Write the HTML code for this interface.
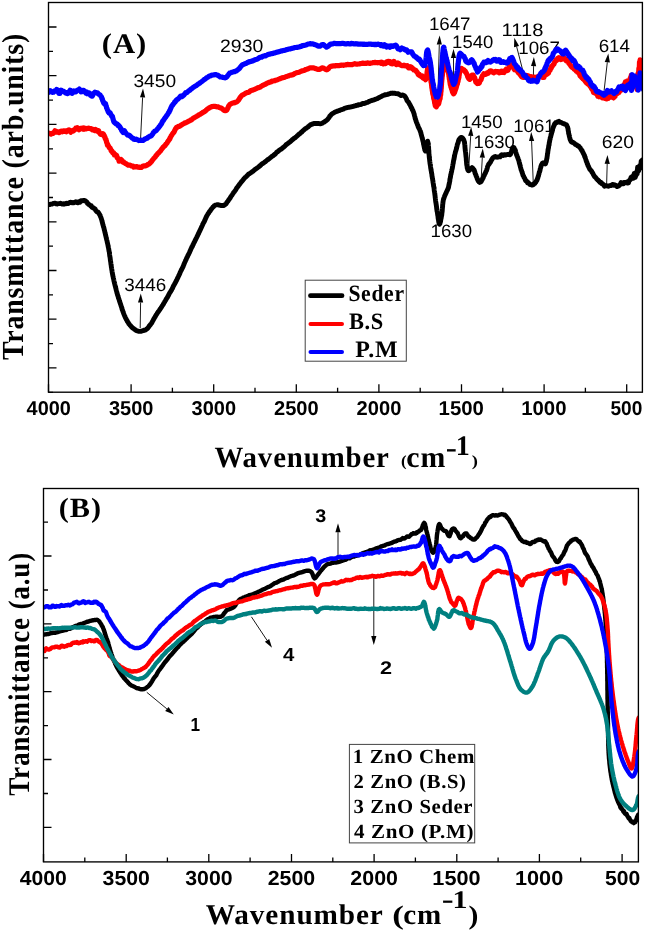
<!DOCTYPE html>
<html><head><meta charset="utf-8"><title>FTIR spectra</title>
<style>html,body{margin:0;padding:0;background:#fff}svg{display:block}</style></head>
<body>
<svg width="645" height="932" viewBox="0 0 645 932" text-rendering="geometricPrecision">
<rect width="645" height="932" fill="#fff"/>
<text transform="translate(133.43,87.20) scale(1.0645,1)" font-size="18" font-family="'Liberation Sans', sans-serif" font-weight="normal">3450</text>
<text transform="translate(220.03,52.30) scale(1.0799,1)" font-size="18" font-family="'Liberation Sans', sans-serif" font-weight="normal">2930</text>
<text transform="translate(428.90,30.00) scale(1.0397,1)" font-size="18" font-family="'Liberation Sans', sans-serif" font-weight="normal">1647</text>
<text transform="translate(452.11,47.80) scale(1.0269,1)" font-size="18" font-family="'Liberation Sans', sans-serif" font-weight="normal">1540</text>
<text transform="translate(501.59,36.40) scale(1.1168,1)" font-size="18" font-family="'Liberation Sans', sans-serif" font-weight="normal">1118</text>
<text transform="translate(518.30,53.80) scale(1.0397,1)" font-size="18" font-family="'Liberation Sans', sans-serif" font-weight="normal">1067</text>
<text transform="translate(598.66,52.00) scale(1.0445,1)" font-size="18" font-family="'Liberation Sans', sans-serif" font-weight="normal">614</text>
<text transform="translate(460.90,128.30) scale(1.0400,1)" font-size="18" font-family="'Liberation Sans', sans-serif" font-weight="normal">1450</text>
<text transform="translate(473.61,147.80) scale(1.0269,1)" font-size="18" font-family="'Liberation Sans', sans-serif" font-weight="normal">1630</text>
<text transform="translate(513.31,132.00) scale(1.0291,1)" font-size="18" font-family="'Liberation Sans', sans-serif" font-weight="normal">1061</text>
<text transform="translate(601.73,147.60) scale(1.0723,1)" font-size="18" font-family="'Liberation Sans', sans-serif" font-weight="normal">620</text>
<text transform="translate(430.60,237.20) scale(1.0348,1)" font-size="18" font-family="'Liberation Sans', sans-serif" font-weight="normal">1630</text>
<text transform="translate(124.34,291.00) scale(1.0488,1)" font-size="18" font-family="'Liberation Sans', sans-serif" font-weight="normal">3446</text>
<line x1="140.5" y1="140.0" x2="142.6" y2="97.4" stroke="#000" stroke-width="0.9"/><polygon points="143.0,88.4 145.2,97.5 140.0,97.3" fill="#000"/>
<line x1="438.0" y1="91.9" x2="439.3" y2="44.5" stroke="#000" stroke-width="0.9"/><polygon points="439.6,35.5 441.9,44.6 436.7,44.4" fill="#000"/>
<line x1="453.6" y1="82.0" x2="453.5" y2="57.9" stroke="#000" stroke-width="0.9"/><polygon points="453.5,48.9 456.1,57.9 450.9,57.9" fill="#000"/>
<line x1="523.5" y1="73.3" x2="516.6" y2="46.5" stroke="#000" stroke-width="0.9"/><polygon points="514.3,37.8 519.1,45.9 514.0,47.2" fill="#000"/>
<line x1="533.4" y1="75.0" x2="533.6" y2="66.1" stroke="#000" stroke-width="0.9"/><polygon points="533.9,57.1 536.2,66.2 531.0,66.0" fill="#000"/>
<line x1="604.1" y1="90.6" x2="607.3" y2="62.3" stroke="#000" stroke-width="0.9"/><polygon points="608.3,53.4 609.9,62.6 604.7,62.1" fill="#000"/>
<line x1="468.8" y1="167.5" x2="470.7" y2="136.0" stroke="#000" stroke-width="0.9"/><polygon points="471.2,127.0 473.3,136.1 468.1,135.8" fill="#000"/>
<line x1="481.2" y1="178.3" x2="482.3" y2="157.6" stroke="#000" stroke-width="0.9"/><polygon points="482.8,148.6 484.9,157.7 479.7,157.4" fill="#000"/>
<line x1="533.3" y1="183.8" x2="531.6" y2="141.0" stroke="#000" stroke-width="0.9"/><polygon points="531.2,132.0 534.2,140.9 529.0,141.1" fill="#000"/>
<line x1="606.6" y1="185.3" x2="607.2" y2="163.9" stroke="#000" stroke-width="0.9"/><polygon points="607.5,154.9 609.8,164.0 604.6,163.8" fill="#000"/>
<line x1="140.2" y1="328.0" x2="140.6" y2="302.5" stroke="#000" stroke-width="0.9"/><polygon points="140.8,293.5 143.2,302.5 138.0,302.5" fill="#000"/>
<clipPath id="ca"><rect x="48.5" y="2.5" width="593.9" height="389.7"/></clipPath>
<g fill="none" stroke-linejoin="round" stroke-linecap="round" clip-path="url(#ca)">
<path d="M44.0 204.7L44.1 204.9 44.2 205.2 44.5 205.3 44.9 204.7 45.4 204.5 46.0 204.2 46.7 204.1 47.4 204.4 48.3 204.7 49.1 204.4 50.0 204.5 51.0 204.1 52.0 204.1 53.0 203.5 54.1 203.4 55.1 203.1 56.2 203.9 57.3 204.0 58.3 203.6 59.4 203.6 60.4 203.3 61.4 203.8 62.3 204.1 63.2 203.7 64.0 204.2 64.8 203.7 65.7 203.7 66.5 203.3 67.4 203.6 68.3 203.6 69.1 202.7 70.0 202.4 70.9 202.3 71.7 202.5 72.6 202.9 73.4 202.8 74.2 202.3 75.0 202.1 75.8 201.8 76.6 202.6 77.3 202.6 78.0 202.8 78.7 201.8 79.4 201.9 80.0 202.2 81.0 200.7 82.0 200.8 82.9 200.7 83.7 200.4 84.5 200.5 85.3 200.8 86.0 201.5 86.8 201.9 87.4 203.3 88.1 203.7 88.7 204.5 89.3 204.7 90.0 205.1 90.6 205.8 91.3 205.8 92.0 207.3 92.6 207.6 93.3 207.7 93.9 208.3 94.6 208.5 95.2 209.2 95.7 210.4 96.3 211.0 96.9 211.8 97.5 211.7 98.1 212.1 98.6 213.0 99.1 213.7 99.6 214.7 100.0 214.9 100.3 216.0 100.6 216.7 100.9 217.4 101.2 218.3 101.4 218.9 101.7 219.9 101.9 220.7 102.1 221.5 102.4 222.5 102.6 223.4 102.8 224.3 103.1 225.1 103.3 226.1 103.5 226.8 103.8 227.5 104.0 228.3 104.2 229.4 104.4 230.0 104.6 230.8 104.8 231.7 105.0 232.7 105.2 233.4 105.4 234.3 105.6 235.2 105.8 235.9 106.0 236.8 106.2 237.7 106.4 238.5 106.6 239.3 106.8 240.1 107.0 240.8 107.2 241.7 107.3 242.5 107.5 243.2 107.7 244.0 107.9 244.8 108.0 245.5 108.2 246.5 108.4 247.5 108.6 248.3 108.7 248.9 108.8 249.7 108.9 250.1 109.0 251.0 109.2 251.6 109.3 252.2 109.4 253.1 109.5 253.6 109.6 254.6 109.7 255.3 109.8 256.2 110.0 257.0 110.1 257.6 110.2 258.5 110.3 259.3 110.4 260.3 110.5 261.0 110.7 261.9 110.8 262.8 110.9 263.8 111.0 264.5 111.2 265.4 111.3 266.4 111.4 267.3 111.6 268.1 111.7 269.1 111.8 269.8 112.0 270.7 112.1 271.6 112.2 272.3 112.4 273.1 112.5 274.1 112.7 274.7 112.8 275.7 113.0 276.4 113.2 277.1 113.3 277.9 113.5 278.6 113.7 279.6 113.9 280.3 114.0 281.1 114.2 281.8 114.4 282.7 114.6 283.6 114.8 284.2 115.0 285.1 115.2 285.9 115.4 286.7 115.6 287.5 115.8 288.2 116.0 289.0 116.2 289.9 116.4 290.7 116.6 291.4 116.8 292.1 117.0 293.0 117.2 293.5 117.4 294.3 117.6 295.1 117.9 295.9 118.1 296.6 118.3 297.2 118.5 298.1 118.8 298.7 119.0 299.4 119.3 300.4 119.5 301.1 119.8 301.9 120.0 302.5 120.3 303.5 120.6 304.2 120.8 304.9 121.1 305.9 121.4 306.8 121.7 307.5 121.9 308.5 122.2 309.5 122.5 310.2 122.8 311.1 123.1 312.0 123.4 312.7 123.7 313.6 124.0 314.4 124.3 315.1 124.6 315.8 124.9 316.4 125.2 317.2 125.5 317.9 125.9 318.5 126.2 319.2 126.5 319.7 127.0 320.5 127.4 321.5 127.9 322.1 128.4 322.8 128.8 323.7 129.3 324.2 129.8 324.9 130.3 325.4 130.8 326.0 131.3 326.7 131.9 327.4 132.4 327.7 133.0 328.3 133.7 328.6 134.5 329.3 135.2 329.7 136.0 330.4 136.8 330.7 137.6 331.0 138.4 331.3 139.2 331.4 140.0 331.4 140.8 331.3 141.5 331.1 142.3 330.9 143.1 330.7 143.9 330.3 144.7 330.2 145.5 329.9 146.2 329.4 147.0 328.8 147.7 328.4 148.2 327.5 148.7 326.9 149.2 326.1 149.7 325.6 150.2 325.1 150.6 324.4 151.1 323.8 151.5 323.3 152.0 322.4 152.4 321.6 152.8 320.9 153.3 319.9 153.7 319.2 154.2 318.3 154.6 317.6 155.1 316.9 155.5 316.0 156.0 315.2 156.4 314.6 156.9 313.9 157.3 313.1 157.7 312.5 158.2 311.9 158.6 311.3 159.1 310.6 159.5 310.0 160.0 309.3 160.4 308.8 160.9 308.0 161.3 307.3 161.8 306.6 162.2 305.9 162.7 305.2 163.1 304.6 163.6 303.7 164.0 302.8 164.5 302.1 164.9 301.3 165.4 300.6 165.8 299.8 166.2 299.2 166.6 298.6 167.0 297.9 167.4 297.3 167.8 296.5 168.2 295.8 168.6 295.2 168.9 294.4 169.3 293.6 169.7 292.9 170.1 292.3 170.5 291.8 170.9 291.0 171.2 290.6 171.6 289.8 172.0 289.0 172.4 288.4 172.8 287.5 173.2 286.6 173.6 285.7 174.0 285.1 174.4 284.4 174.8 283.6 175.2 282.8 175.6 282.2 175.9 281.5 176.2 281.0 176.6 280.3 176.9 279.6 177.2 279.0 177.6 278.2 177.9 277.5 178.2 276.8 178.6 276.0 178.9 275.3 179.3 274.7 179.6 273.9 180.0 273.0 180.3 272.1 180.7 271.4 181.0 270.7 181.4 270.0 181.7 269.4 182.1 268.5 182.5 267.9 182.8 267.1 183.2 266.3 183.5 265.5 183.9 264.5 184.2 263.7 184.6 262.8 184.9 262.1 185.3 261.4 185.6 260.4 186.0 259.8 186.3 259.0 186.7 258.1 187.0 257.4 187.4 256.8 187.7 256.0 188.0 255.3 188.4 254.7 188.7 254.1 189.0 253.4 189.4 252.7 189.7 251.9 190.0 251.2 190.4 250.4 190.7 249.6 191.1 248.6 191.5 248.0 191.8 247.1 192.2 246.6 192.6 245.8 192.9 244.9 193.3 244.3 193.6 243.5 194.0 242.7 194.3 242.2 194.7 241.5 195.0 240.7 195.4 240.0 195.7 239.4 196.1 238.6 196.4 237.9 196.8 237.2 197.1 236.6 197.4 235.9 197.8 235.1 198.1 234.3 198.5 233.7 198.8 233.0 199.1 232.2 199.5 231.5 199.8 230.8 200.2 230.1 200.5 229.3 200.9 228.6 201.2 227.7 201.6 227.0 202.0 226.1 202.3 225.5 202.7 224.6 203.0 223.8 203.4 223.1 203.7 222.6 204.1 221.8 204.5 221.2 204.8 220.2 205.2 219.6 205.5 218.7 205.9 217.9 206.2 217.2 206.6 216.4 206.9 215.7 207.3 215.0 207.7 214.4 208.0 213.8 208.4 213.3 208.8 212.9 209.1 212.2 209.5 211.6 210.1 211.0 210.6 210.1 211.2 209.4 211.7 208.7 212.3 208.0 212.9 207.1 213.5 206.7 214.1 205.9 214.7 205.7 215.3 205.2 216.0 205.0 216.7 204.8 217.5 204.8 218.4 204.8 219.2 205.1 220.1 205.2 220.9 205.5 221.8 205.6 222.6 205.5 223.3 205.6 224.0 205.5 224.7 204.9 225.3 204.4 225.9 204.0 226.4 203.3 226.9 202.4 227.4 201.8 228.0 201.1 228.5 200.2 229.1 199.5 229.5 198.8 230.0 198.2 230.4 197.5 230.8 196.8 231.3 196.0 231.7 195.5 232.2 194.8 232.7 194.0 233.2 193.2 233.6 192.5 234.1 191.9 234.6 191.4 235.1 190.7 235.5 190.1 236.0 189.3 236.5 188.4 236.9 187.7 237.4 187.2 237.9 186.5 238.4 185.9 238.9 185.2 239.3 184.5 239.8 183.9 240.3 183.4 240.7 182.7 241.2 182.1 241.7 181.6 242.2 181.0 242.7 180.4 243.2 179.8 243.7 179.0 244.3 178.4 244.9 177.7 245.5 177.2 246.0 176.8 246.6 176.2 247.2 175.7 247.8 174.9 248.4 174.3 249.1 173.8 249.7 173.6 250.4 173.1 251.0 172.6 251.7 172.2 252.4 171.5 253.1 171.2 253.8 170.5 254.5 169.9 255.2 169.2 255.9 168.9 256.6 168.3 257.3 167.9 257.9 167.4 258.5 167.1 259.1 166.5 259.7 166.0 260.3 165.5 260.9 164.9 261.5 164.3 262.2 163.8 262.8 163.5 263.4 163.1 264.1 162.7 264.7 162.0 265.4 161.7 266.0 161.1 266.7 160.5 267.3 159.9 268.0 159.5 268.6 159.2 269.3 158.6 270.0 158.0 270.6 157.4 271.3 156.9 272.0 156.3 272.6 156.0 273.3 155.6 273.9 154.9 274.6 154.5 275.2 154.0 275.8 153.4 276.4 152.6 277.0 152.0 277.6 151.7 278.3 151.2 278.9 150.7 279.5 150.1 280.1 149.7 280.7 149.4 281.4 148.9 282.0 148.5 282.6 147.9 283.2 147.4 283.9 146.9 284.5 146.5 285.1 145.8 285.8 145.0 286.4 144.5 287.0 144.1 287.6 143.6 288.3 143.2 288.9 142.6 289.5 142.2 290.2 141.7 290.8 141.1 291.4 140.7 292.0 140.0 292.6 139.5 293.3 139.1 293.9 138.5 294.5 138.0 295.2 137.7 295.8 137.1 296.5 136.5 297.1 135.9 297.8 135.3 298.5 134.7 299.2 134.0 299.9 133.6 300.5 133.1 301.2 132.3 301.9 132.0 302.6 131.1 303.3 130.6 303.9 130.0 304.6 129.3 305.3 128.7 305.9 128.4 306.6 127.9 307.2 127.5 307.9 127.0 308.5 126.5 309.1 125.9 309.7 125.4 310.3 125.0 310.9 124.5 311.5 124.5 312.0 124.3 312.6 124.0 313.1 123.6 314.0 123.5 314.9 123.5 315.8 123.4 316.6 123.5 317.4 123.5 318.2 123.6 319.0 123.5 319.7 123.7 320.5 123.7 321.3 123.6 322.2 123.2 323.0 122.6 323.8 122.2 324.5 121.9 325.3 121.2 326.0 120.7 326.7 120.2 327.3 119.8 327.8 119.1 328.3 118.5 328.8 117.9 329.3 117.2 329.8 116.2 330.4 115.7 331.0 114.9 331.7 114.1 332.3 113.7 332.9 113.3 333.6 112.9 334.3 112.6 335.0 112.1 335.8 111.7 336.5 111.4 337.3 111.3 338.1 110.9 339.0 110.7 339.8 110.4 340.7 109.9 341.5 109.7 342.4 109.4 343.2 109.2 344.1 108.6 344.8 108.3 345.6 108.0 346.3 107.9 347.1 107.7 347.9 107.4 348.6 107.4 349.4 107.1 350.2 107.0 351.1 106.8 351.9 106.8 352.7 106.5 353.5 106.4 354.3 106.0 355.1 105.9 356.0 105.5 356.8 105.3 357.6 105.2 358.4 104.8 359.2 104.7 360.0 104.6 360.7 104.6 361.5 104.2 362.3 103.7 363.1 103.5 364.0 103.5 364.8 103.4 365.6 103.0 366.5 102.6 367.3 102.4 368.1 102.1 368.9 101.5 369.7 101.3 370.5 100.9 371.3 100.7 372.1 100.4 372.8 100.1 373.6 100.1 374.3 99.8 375.0 99.4 375.7 99.2 376.4 98.9 377.3 98.7 378.1 98.2 378.9 97.7 379.7 97.3 380.5 96.9 381.2 96.5 382.0 96.2 382.7 95.6 383.5 95.4 384.2 95.2 385.0 94.8 385.8 94.7 386.6 94.6 387.5 94.4 388.3 94.1 389.1 93.8 389.9 93.6 390.7 93.3 391.6 93.2 392.4 93.3 393.3 93.1 394.1 93.2 394.9 93.2 395.7 93.6 396.5 93.6 397.4 93.7 398.2 93.8 399.1 94.4 399.9 94.8 400.7 95.5 401.5 95.5 402.3 95.0 403.0 95.1 403.7 95.4 404.3 95.8 404.9 96.2 405.5 97.2 406.0 98.0 406.5 99.1 407.0 100.5 407.5 101.1 408.0 101.7 408.4 102.0 408.9 102.8 409.3 103.6 409.8 104.6 410.2 105.0 410.5 105.8 410.9 106.6 411.2 107.5 411.5 107.8 411.8 108.1 412.1 109.0 412.4 110.0 412.7 110.0 413.0 111.0 413.2 111.3 413.5 112.1 413.8 113.2 414.1 113.7 414.3 114.9 414.6 116.0 414.9 116.8 415.1 118.0 415.4 119.0 415.6 119.4 415.9 120.6 416.2 121.3 416.4 122.0 416.7 122.7 417.0 123.4 417.3 124.4 417.6 125.1 417.9 125.5 418.1 126.6 418.4 127.3 418.7 127.7 419.0 128.6 419.3 128.7 419.6 129.5 419.8 130.1 420.1 130.8 420.4 131.2 420.6 132.4 420.9 132.8 421.1 134.1 421.4 134.9 421.6 135.9 421.9 136.9 422.1 137.8 422.4 138.2 422.6 139.7 422.8 140.3 423.0 141.4 423.3 142.2 423.5 143.9 423.7 144.5 423.9 145.6 424.1 146.6 424.3 147.5 424.5 148.4 424.7 149.1 424.8 149.8 425.0 150.1 425.2 150.7 425.4 150.9 425.6 150.7 425.8 149.6 426.1 149.0 426.3 147.9 426.5 146.7 426.7 145.3 426.9 143.9 427.1 143.4 427.2 142.4 427.4 141.6 427.6 141.6 427.7 141.2 427.8 142.0 427.9 142.3 428.0 142.8 428.1 142.6 428.2 143.7 428.3 144.4 428.3 144.6 428.4 145.8 428.5 146.4 428.6 147.3 428.6 148.2 428.7 149.4 428.8 150.9 428.9 151.7 428.9 153.0 429.0 154.2 429.1 154.7 429.2 156.3 429.3 157.4 429.4 158.2 429.5 159.0 429.6 159.8 429.7 160.9 429.8 161.6 429.9 162.2 430.0 163.3 430.1 164.0 430.2 164.4 430.3 165.1 430.5 166.1 430.6 167.1 430.7 167.8 430.8 168.6 431.0 169.6 431.1 170.3 431.2 170.8 431.4 171.9 431.5 172.7 431.6 173.2 431.8 173.9 431.9 174.9 432.0 176.0 432.2 176.9 432.3 177.4 432.4 178.4 432.6 178.9 432.7 180.1 432.9 180.9 433.0 181.9 433.1 182.8 433.2 183.0 433.4 184.6 433.5 184.7 433.6 186.2 433.8 187.0 433.9 187.1 434.0 188.0 434.1 188.6 434.2 190.0 434.3 190.7 434.5 191.7 434.6 192.4 434.7 192.9 434.8 194.1 434.9 194.6 435.0 195.4 435.1 196.3 435.2 197.4 435.3 197.9 435.4 199.0 435.5 199.8 435.6 200.8 435.7 201.4 435.8 202.2 436.0 203.1 436.1 203.8 436.2 204.8 436.3 205.1 436.4 205.9 436.5 206.6 436.6 207.6 436.7 208.7 436.8 209.2 436.9 209.9 437.0 210.8 437.1 211.4 437.2 211.6 437.3 212.2 437.5 213.5 437.6 214.3 437.8 215.7 438.0 216.4 438.1 217.8 438.3 219.2 438.5 219.9 438.6 220.8 438.8 222.2 439.0 222.5 439.1 223.7 439.3 223.8 439.5 224.2 439.7 223.9 439.9 223.6 440.1 222.8 440.3 221.9 440.5 221.7 440.7 220.1 440.9 218.9 441.1 218.5 441.3 217.1 441.5 216.0 441.7 215.3 441.8 214.4 441.9 213.2 442.0 212.5 442.1 211.9 442.2 211.1 442.3 209.9 442.3 209.0 442.4 208.3 442.5 207.1 442.6 206.8 442.6 205.8 442.7 204.5 442.8 204.0 442.9 203.2 443.0 201.9 443.1 201.4 443.2 201.0 443.3 200.0 443.5 199.6 443.6 198.6 443.8 198.7 444.1 197.6 444.4 196.8 444.8 195.6 445.2 195.0 445.6 193.8 446.0 193.2 446.4 192.1 446.7 191.4 447.1 190.7 447.3 190.1 447.5 189.8 447.7 189.5 447.9 188.7 448.1 188.5 448.2 188.3 448.4 187.5 448.6 187.0 448.8 185.5 448.9 185.2 449.1 184.0 449.3 183.7 449.4 182.5 449.6 181.8 449.8 181.0 449.9 179.6 450.1 178.6 450.2 178.3 450.4 177.4 450.6 176.3 450.7 175.1 450.9 174.2 451.1 174.0 451.2 173.1 451.4 172.0 451.6 171.5 451.7 170.9 451.9 169.4 452.0 169.3 452.2 168.7 452.4 167.8 452.5 167.0 452.7 165.8 452.8 165.1 453.0 163.9 453.1 163.6 453.3 162.7 453.4 161.6 453.6 160.5 453.8 159.8 453.9 159.1 454.1 158.7 454.2 157.5 454.4 157.0 454.6 155.7 454.7 154.9 454.9 154.2 455.1 153.4 455.2 153.1 455.4 152.0 455.6 151.3 455.8 150.9 456.1 149.8 456.3 149.1 456.6 148.0 456.8 147.1 457.1 145.8 457.3 144.7 457.6 143.8 457.9 143.3 458.2 142.4 458.4 141.2 458.7 140.3 459.1 139.3 459.4 139.3 459.7 138.7 460.1 138.2 460.9 137.4 461.8 137.4 462.7 138.3 463.4 139.2 463.7 139.8 463.9 140.6 464.1 141.2 464.3 141.5 464.5 142.2 464.6 143.2 464.7 144.3 464.8 144.9 464.9 145.5 464.9 146.6 465.0 147.5 465.1 148.8 465.2 149.3 465.3 150.8 465.4 151.1 465.5 151.8 465.6 152.4 465.7 153.6 465.8 154.4 465.9 155.5 466.0 156.4 466.1 157.2 466.2 157.9 466.3 159.6 466.3 160.1 466.4 161.1 466.5 162.0 466.6 163.4 466.7 164.4 466.8 165.1 467.0 165.9 467.1 166.5 467.2 167.8 467.4 168.5 467.6 168.7 467.7 169.3 467.9 170.1 468.2 170.4 468.4 170.1 468.9 170.7 469.5 170.1 470.2 169.5 470.9 168.4 471.5 168.3 472.1 167.6 472.5 167.9 472.9 168.5 473.2 168.9 473.6 169.1 474.0 169.8 474.3 170.7 474.7 171.5 475.0 173.0 475.3 173.7 475.7 174.6 476.0 175.5 476.4 176.5 476.9 177.6 477.3 179.0 477.8 179.7 478.2 180.9 478.7 181.5 479.2 182.1 479.6 182.4 480.1 182.1 480.6 182.0 481.1 181.7 481.6 180.6 482.1 179.9 482.6 178.6 483.1 178.1 483.5 176.6 484.0 175.7 484.3 175.4 484.6 174.3 484.9 173.6 485.2 173.4 485.5 172.8 485.8 171.8 486.1 171.3 486.4 170.8 486.7 170.0 487.0 169.1 487.3 168.1 487.6 166.6 487.9 165.9 488.3 165.2 488.7 164.1 489.2 164.0 489.6 163.0 490.1 162.7 490.6 161.9 491.1 160.7 491.6 159.9 492.1 159.1 492.7 158.1 493.2 157.5 493.8 157.3 494.6 156.6 495.5 156.5 496.4 157.1 497.3 157.2 498.3 157.0 499.2 156.7 500.0 156.9 500.8 155.6 501.7 154.7 502.5 155.2 503.3 155.5 504.1 154.8 504.9 154.8 505.7 155.0 506.6 154.6 507.5 154.5 508.4 154.4 509.2 154.4 510.0 154.8 510.5 154.2 511.0 152.7 511.5 151.7 511.9 149.9 512.3 149.0 512.7 147.8 513.1 147.6 513.5 147.5 513.9 147.5 514.3 148.5 514.6 149.3 515.0 149.6 515.4 150.5 515.7 151.8 516.1 153.2 516.4 154.5 516.8 155.0 517.0 156.0 517.3 156.5 517.5 156.8 517.7 157.5 518.0 158.5 518.2 158.8 518.4 159.5 518.7 160.3 518.9 160.6 519.1 161.7 519.3 162.6 519.5 163.5 519.8 164.5 520.0 165.0 520.2 166.1 520.4 166.9 520.6 167.5 520.9 168.8 521.1 169.7 521.4 170.3 521.7 171.0 521.9 171.8 522.2 172.7 522.5 173.5 522.7 174.2 523.0 175.5 523.3 175.7 523.7 176.3 524.0 177.4 524.4 177.7 524.9 178.8 525.3 179.8 525.8 180.8 526.4 181.0 526.9 181.4 527.5 182.7 528.0 182.4 528.6 183.2 529.2 183.7 530.0 184.6 530.9 184.6 531.8 185.0 532.7 185.1 533.5 184.5 534.2 183.5 534.8 183.5 535.4 182.5 536.0 181.9 536.5 180.7 536.8 180.4 537.1 179.9 537.4 178.6 537.7 178.4 538.0 177.0 538.2 176.5 538.5 175.8 538.7 174.6 539.0 174.0 539.2 172.7 539.4 171.9 539.7 171.5 540.0 170.4 540.2 169.1 540.4 168.3 540.6 167.8 540.9 166.8 541.1 165.7 541.3 165.6 541.6 164.5 541.9 164.4 542.3 163.4 543.2 162.8 544.3 163.4 545.2 164.0 545.5 163.8 545.7 163.1 546.0 162.2 546.2 161.8 546.4 160.9 546.5 160.2 546.7 159.1 546.9 158.2 547.0 158.0 547.1 157.0 547.3 155.6 547.4 154.9 547.5 153.5 547.7 153.2 547.8 152.1 547.9 151.2 548.1 150.0 548.2 149.1 548.4 148.5 548.6 147.2 548.7 146.0 548.9 145.1 549.1 144.8 549.2 143.3 549.4 142.2 549.6 141.7 549.7 140.4 549.9 139.8 550.1 139.2 550.2 138.0 550.4 137.4 550.6 137.0 550.8 136.3 550.9 135.6 551.1 134.2 551.3 134.4 551.5 133.4 551.7 132.4 552.0 132.3 552.2 130.7 552.5 130.4 552.7 128.8 553.0 127.9 553.3 127.3 553.5 126.6 553.9 125.8 554.2 125.2 554.5 124.0 554.9 124.0 555.6 122.8 556.4 122.7 557.3 122.0 558.2 121.8 558.9 121.3 559.7 122.3 560.5 122.2 561.3 122.5 562.1 123.0 562.9 123.6 563.6 123.6 564.4 123.9 565.1 124.3 565.7 124.5 566.4 124.8 566.9 125.7 567.2 126.5 567.5 127.1 567.7 127.4 567.9 128.6 568.1 129.6 568.2 130.4 568.3 130.9 568.5 131.7 568.6 133.3 568.8 133.9 569.0 134.4 569.2 135.6 569.4 136.4 569.6 137.3 569.8 137.9 570.0 139.0 570.2 139.6 570.5 140.2 570.8 140.8 571.2 141.6 571.9 142.2 572.8 142.3 573.7 142.9 574.6 143.5 575.5 144.5 576.2 144.7 576.8 144.8 577.5 145.8 578.1 145.8 578.7 146.0 579.3 147.1 579.9 147.4 580.4 148.2 580.8 148.8 581.3 149.5 581.7 150.3 582.2 150.7 582.6 151.9 583.0 152.5 583.4 153.5 583.8 154.0 584.2 155.3 584.5 155.6 584.8 157.0 585.2 157.3 585.5 158.4 585.8 159.4 586.1 160.3 586.3 161.2 586.6 161.7 586.9 162.3 587.3 163.9 587.6 164.1 587.9 165.4 588.2 165.9 588.6 166.7 589.0 167.6 589.4 168.4 589.8 169.4 590.3 169.8 590.7 170.1 591.2 170.9 591.6 171.1 592.1 172.5 592.6 172.8 593.1 173.9 593.5 174.9 594.0 175.5 594.5 176.6 595.0 177.1 595.5 177.3 596.1 178.0 596.6 178.9 597.1 179.3 597.7 179.9 598.2 180.2 598.8 181.0 599.4 181.5 600.1 182.4 600.8 182.3 601.5 183.5 602.2 183.5 602.9 184.2 603.7 184.8 604.4 186.2 605.2 185.7 605.9 185.9 606.8 185.8 607.7 186.1 608.6 186.2 609.5 185.6 610.5 185.5 611.4 185.5 612.2 184.7 613.0 184.5 613.8 185.3 614.7 184.8 615.5 185.3 616.3 185.7 617.1 186.6 617.9 186.2 618.7 185.9 619.5 185.1 620.3 184.4 621.0 182.6 621.8 183.2 622.5 183.7 623.3 183.8 624.0 182.4 624.8 182.6 625.5 182.8 626.2 182.2 627.0 182.8 627.7 181.8 628.4 183.0 629.1 180.7 629.8 180.0 630.4 179.5 631.0 177.4 631.5 177.3 632.1 176.6 632.6 178.0 633.2 178.3 633.7 175.9 634.2 173.5 634.7 175.5 635.2 177.4 635.7 176.0 636.2 174.9 636.7 171.5 637.2 173.9 637.6 167.2 638.1 167.7 638.6 171.0 639.1 169.1 639.6 165.7 640.1 168.3 640.6 167.2 641.2 161.0 641.9 160.4 642.5 162.7 643.2 159.4 643.8 160.1 644.4 162.2 644.9 157.1 645.4 158.1 645.7 164.5 645.9 157.0 646.0 162.2" stroke="#000000" stroke-width="4.9"/>
<path d="M44.0 131.7L44.1 131.6 44.2 132.4 44.5 132.3 44.9 131.8 45.4 132.1 46.0 132.7 46.6 133.2 47.4 133.1 48.1 133.0 49.0 133.0 49.9 133.7 50.9 134.1 51.8 133.4 52.9 133.5 53.9 132.6 55.0 130.7 56.0 132.1 57.1 131.7 58.1 132.1 59.2 132.7 60.2 131.7 61.2 131.2 62.2 131.8 63.1 131.0 64.0 130.8 64.8 131.4 65.6 130.9 66.4 131.7 67.3 130.8 68.1 130.3 69.0 129.8 69.8 130.7 70.7 132.2 71.5 130.9 72.4 130.4 73.2 131.0 74.1 130.2 74.9 129.6 75.7 128.2 76.6 128.6 77.4 127.7 78.2 128.8 79.0 129.7 79.8 128.9 80.5 128.3 81.3 128.5 82.0 128.3 82.7 129.0 83.4 128.0 84.1 129.2 84.7 128.2 85.6 128.4 86.5 128.8 87.3 128.6 88.1 128.3 88.9 128.2 89.6 128.4 90.3 128.7 91.1 128.5 91.8 129.4 92.5 129.9 93.3 129.5 94.0 130.0 94.8 130.6 95.6 129.5 96.3 129.9 97.1 131.1 97.9 131.6 98.6 130.8 99.3 132.6 100.0 133.7 100.7 134.4 101.4 134.3 102.0 134.6 102.5 133.8 103.0 134.4 103.4 134.0 103.8 135.1 104.2 135.4 104.6 137.0 105.0 137.2 105.3 138.8 105.7 139.5 106.0 139.4 106.4 141.4 106.7 142.6 107.1 143.1 107.4 145.0 107.8 144.6 108.2 145.6 108.7 146.7 109.1 147.2 109.5 147.9 110.0 147.8 110.4 148.8 110.9 150.1 111.3 151.0 111.8 150.8 112.3 151.7 112.8 152.9 113.3 153.1 113.8 152.9 114.4 154.9 114.9 154.5 115.5 154.6 116.1 155.3 116.6 155.4 117.2 157.9 117.9 158.0 118.5 159.1 119.1 161.2 119.8 159.8 120.4 159.8 121.1 159.5 121.7 160.1 122.4 161.9 123.1 162.2 123.7 161.9 124.4 162.9 125.1 163.2 125.9 163.7 126.7 164.1 127.4 164.6 128.2 165.2 129.0 165.0 129.8 165.1 130.6 165.5 131.4 165.9 132.1 166.0 132.9 166.1 133.6 167.1 134.3 166.8 135.3 167.0 136.2 166.7 137.0 166.7 137.9 167.1 138.8 167.3 139.6 167.2 140.5 167.4 141.3 167.5 142.0 166.9 142.8 166.1 143.6 166.1 144.4 165.8 145.1 165.9 145.9 165.7 146.7 165.3 147.3 165.1 147.8 164.5 148.4 164.1 149.0 164.1 149.6 163.4 150.1 163.3 150.7 162.2 151.3 161.7 151.9 161.0 152.5 160.0 153.1 159.5 153.7 158.5 154.3 158.0 154.9 157.2 155.5 156.7 156.0 155.7 156.6 155.1 157.1 154.7 157.7 153.7 158.2 153.2 158.8 152.8 159.3 151.9 159.8 151.6 160.4 151.2 160.9 150.2 161.4 149.5 161.9 148.8 162.5 148.2 163.0 147.3 163.5 147.0 164.0 146.4 164.5 145.8 165.1 145.7 165.6 144.7 166.1 143.9 166.6 143.6 167.1 142.9 167.5 142.0 168.0 141.5 168.4 140.7 168.9 140.1 169.3 139.4 169.8 139.0 170.2 137.6 170.7 136.9 171.1 136.0 171.5 135.4 172.0 134.7 172.4 134.0 172.9 133.3 173.3 132.7 173.8 132.4 174.2 131.7 174.7 130.6 175.1 129.6 175.6 128.6 176.0 128.4 176.5 127.3 177.2 127.2 177.8 126.7 178.5 126.3 179.2 126.4 179.9 126.1 180.5 125.5 181.2 125.1 181.9 124.9 182.6 124.1 183.2 123.9 183.9 123.6 184.7 122.8 185.4 122.9 186.2 122.5 186.9 122.3 187.6 121.7 188.4 121.4 189.2 120.8 190.0 120.7 190.6 120.1 191.3 119.9 191.9 119.4 192.6 118.8 193.3 118.2 194.0 117.9 194.7 117.4 195.4 117.0 196.2 116.6 196.9 116.2 197.6 115.7 198.4 115.4 199.1 114.7 199.9 114.4 200.6 114.0 201.3 113.6 202.0 113.1 202.7 112.5 203.4 112.2 204.2 111.9 204.9 111.2 205.7 110.7 206.5 109.9 207.2 109.3 208.0 108.6 208.7 108.3 209.5 107.7 210.2 107.4 210.9 107.0 211.6 106.8 212.3 106.5 213.0 106.4 213.6 106.3 214.5 106.4 215.4 106.4 216.3 106.7 217.1 106.8 217.9 106.8 218.7 107.1 219.5 107.6 220.3 107.9 221.0 107.9 221.9 108.5 222.8 109.2 223.7 110.0 224.5 110.5 225.3 110.7 226.0 110.5 226.5 110.4 227.0 109.8 227.4 108.8 227.8 108.1 228.2 107.2 228.6 106.1 229.1 105.5 229.7 104.7 230.3 104.1 231.0 103.8 231.7 103.4 232.5 103.1 233.3 103.0 234.1 102.7 234.9 102.6 235.7 102.2 236.4 102.0 237.1 101.8 237.7 101.0 238.3 100.4 238.8 99.8 239.2 99.0 239.7 98.3 240.2 97.3 240.7 96.8 241.4 95.9 242.1 95.3 242.6 94.9 243.2 94.7 243.8 94.5 244.5 94.0 245.2 93.6 245.9 93.0 246.6 92.8 247.4 92.5 248.2 92.5 249.0 92.1 249.8 91.3 250.6 90.8 251.4 90.5 252.2 90.3 253.1 89.9 253.9 89.6 254.7 89.5 255.5 88.9 256.2 88.6 257.0 88.3 257.7 87.7 258.5 87.5 259.2 87.6 259.9 87.2 260.7 86.7 261.4 86.2 262.1 85.8 262.9 85.3 263.6 85.0 264.3 84.7 265.1 84.3 265.8 84.0 266.6 83.5 267.3 83.1 268.1 82.8 268.8 82.5 269.6 82.1 270.3 82.1 271.1 81.8 271.9 81.2 272.7 81.1 273.4 80.9 274.2 80.7 275.0 80.6 275.8 80.2 276.6 80.0 277.4 79.9 278.2 79.4 279.0 79.1 279.8 78.8 280.6 78.5 281.4 78.1 282.2 77.8 283.0 77.7 283.8 77.5 284.6 77.4 285.4 76.9 286.2 76.6 287.0 76.4 287.8 76.1 288.5 75.9 289.3 75.5 290.1 75.3 290.9 75.1 291.8 74.9 292.6 74.8 293.4 74.5 294.2 73.8 295.0 73.4 295.8 73.1 296.6 72.8 297.4 72.6 298.2 72.4 299.0 72.2 299.7 72.0 300.5 71.4 301.3 71.2 302.0 70.8 302.7 70.7 303.4 70.6 304.1 70.4 305.0 70.0 305.8 69.3 306.7 69.3 307.5 69.0 308.3 68.7 309.1 68.3 309.8 68.1 310.6 67.8 311.3 67.8 312.1 67.9 312.8 67.8 313.6 67.8 314.5 68.2 315.3 68.5 316.1 68.8 316.8 69.0 317.6 69.3 318.3 69.3 319.0 69.5 319.8 69.2 320.6 68.8 321.3 68.3 322.1 67.9 322.8 67.9 323.5 68.1 324.3 68.6 325.0 69.0 325.7 69.6 326.5 69.8 327.2 69.7 327.8 69.1 328.5 68.7 329.1 67.6 329.8 67.0 330.6 66.5 331.4 66.2 332.1 66.2 332.9 65.9 333.6 65.9 334.4 65.9 335.2 65.9 336.1 65.5 337.0 65.7 337.9 65.6 338.9 65.7 340.0 65.5 340.6 65.2 341.2 65.1 341.9 65.3 342.6 65.2 343.3 65.3 344.0 65.0 344.8 65.0 345.6 65.0 346.3 64.7 347.1 64.6 348.0 64.4 348.8 64.7 349.6 64.6 350.5 64.7 351.3 64.6 352.2 64.6 353.1 64.2 353.9 64.0 354.8 63.7 355.7 64.0 356.5 64.2 357.4 64.1 358.3 64.0 359.1 64.0 360.0 63.7 360.8 63.6 361.6 63.4 362.5 63.2 363.3 63.1 364.0 63.4 364.8 63.4 365.7 63.5 366.5 63.2 367.4 62.9 368.3 63.1 369.2 63.3 370.0 63.4 370.9 63.0 371.8 63.0 372.6 62.8 373.5 62.5 374.3 62.6 375.2 62.4 376.0 62.5 376.9 62.6 377.7 62.8 378.5 62.6 379.3 62.7 380.1 62.4 380.9 63.2 381.7 62.3 382.5 63.1 383.2 63.9 384.0 62.9 384.7 63.5 385.6 63.7 386.5 61.9 387.4 62.6 388.2 61.4 389.1 61.4 389.9 61.6 390.7 63.3 391.5 63.7 392.3 63.8 393.1 62.5 393.9 61.4 394.7 62.5 395.5 63.6 396.3 64.6 397.1 63.4 397.9 62.9 398.8 63.4 399.6 64.6 400.5 64.8 401.3 65.4 402.2 65.6 403.0 65.7 403.9 65.2 404.7 65.5 405.5 65.9 406.4 66.0 407.2 65.6 408.0 66.9 408.7 67.9 409.5 68.0 410.2 66.6 411.0 66.9 411.7 67.5 412.4 68.6 413.1 68.5 413.7 69.9 414.4 69.6 415.1 70.1 415.7 70.2 416.4 71.7 417.0 71.8 417.6 73.0 418.2 74.4 418.8 74.9 419.4 74.5 420.1 76.0 420.8 76.1 421.5 76.6 422.2 76.1 422.9 77.9 423.5 78.3 424.1 78.3 424.6 78.9 425.1 79.0 425.6 79.7 426.0 78.0 426.3 77.6 426.5 76.1 426.7 75.3 426.9 74.2 427.1 72.3 427.2 71.2 427.4 70.8 427.5 69.3 427.6 68.8 427.8 67.8 428.0 68.3 428.3 68.1 428.6 69.1 428.9 70.0 429.2 71.2 429.4 72.3 429.7 73.2 430.0 74.6 430.1 75.8 430.3 75.9 430.4 76.7 430.5 77.3 430.7 78.1 430.8 78.6 430.9 80.5 431.0 81.1 431.1 82.6 431.2 82.4 431.4 83.3 431.5 84.2 431.6 85.2 431.7 85.8 431.8 87.4 431.9 87.9 432.0 88.3 432.2 89.6 432.3 90.7 432.4 90.8 432.6 92.4 432.7 93.6 432.8 93.8 433.0 94.8 433.2 94.7 433.4 95.7 433.6 97.7 433.8 98.9 434.0 99.2 434.3 100.4 434.5 101.6 434.7 103.3 435.0 103.7 435.2 105.4 435.5 106.0 435.7 105.8 436.0 106.4 436.3 106.8 436.9 105.6 437.5 104.8 438.1 104.4 438.8 103.4 439.3 100.6 439.5 100.5 439.6 99.2 439.8 98.8 439.9 99.1 440.1 98.6 440.2 97.0 440.3 96.3 440.4 95.3 440.6 95.3 440.7 94.2 440.7 93.9 440.8 92.4 440.9 91.8 441.0 91.4 441.1 89.5 441.1 88.8 441.2 88.8 441.3 88.0 441.3 87.1 441.4 86.2 441.5 84.3 441.5 83.5 441.6 82.7 441.7 81.5 441.7 81.3 441.8 80.2 441.9 79.0 442.0 79.1 442.0 77.7 442.1 77.1 442.2 76.5 442.3 75.9 442.4 75.2 442.5 74.3 442.6 72.5 442.7 72.1 442.8 71.1 442.9 69.8 443.0 68.6 443.0 67.1 443.1 66.9 443.2 66.9 443.4 65.3 443.5 65.7 443.6 65.1 443.8 64.7 444.0 64.7 444.2 64.1 444.7 64.7 445.3 64.7 445.9 65.6 446.5 65.5 446.7 65.9 446.9 67.3 447.1 66.9 447.3 67.8 447.4 67.9 447.6 69.7 447.8 70.2 447.9 71.0 448.1 71.7 448.3 71.8 448.4 72.4 448.6 73.2 448.7 74.3 448.9 75.0 449.0 76.5 449.2 76.9 449.3 78.9 449.5 79.4 449.7 79.9 449.8 81.3 450.0 82.1 450.2 83.7 450.4 84.9 450.7 85.5 451.0 87.3 451.3 87.4 451.6 89.1 451.9 89.3 452.2 90.6 452.5 91.9 452.9 92.8 453.2 93.1 453.5 93.9 453.8 93.4 454.1 93.4 454.4 92.2 454.6 92.4 454.9 91.1 455.2 90.5 455.5 89.6 455.7 88.4 456.0 88.5 456.2 87.4 456.5 86.4 456.8 84.9 457.0 84.2 457.3 84.3 457.5 82.9 457.8 81.7 458.0 81.7 458.2 79.7 458.5 79.1 458.7 77.8 458.9 77.8 459.0 75.9 459.2 75.3 459.4 73.3 459.6 72.8 459.8 71.3 460.1 71.2 460.3 70.8 460.5 70.0 460.8 69.4 461.0 69.5 461.3 69.1 461.6 68.4 462.2 69.4 462.8 69.6 463.4 69.5 464.1 69.9 464.7 71.3 465.3 71.1 465.7 72.4 466.1 72.7 466.5 73.5 466.9 74.4 467.3 74.9 467.7 76.8 468.1 77.4 468.5 78.3 469.0 78.9 469.7 79.4 470.5 78.6 471.3 77.3 472.1 75.1 472.8 75.0 473.2 75.1 473.6 75.9 474.0 77.0 474.4 77.0 474.7 77.9 475.0 78.8 475.4 79.9 475.7 82.0 476.1 81.9 476.5 82.7 477.3 83.6 478.1 82.6 479.0 83.2 479.4 82.8 479.8 81.4 480.3 80.6 480.7 80.2 481.1 79.7 481.5 78.0 482.0 76.7 482.4 75.8 482.9 75.1 483.4 74.5 483.9 73.7 484.7 74.3 485.5 74.4 486.3 74.1 487.1 72.9 488.0 73.3 488.9 72.4 489.7 71.2 490.5 70.8 491.3 71.0 492.2 71.8 493.0 72.4 493.9 72.8 494.9 71.7 495.6 71.4 496.4 71.8 497.2 71.6 498.0 71.6 498.9 72.8 499.8 72.7 500.7 71.6 501.6 71.1 502.4 72.4 503.3 72.3 504.1 72.5 504.8 71.0 505.5 70.0 506.1 69.2 506.8 69.9 507.4 70.6 507.9 70.3 508.4 69.1 508.8 68.3 509.3 66.6 509.8 65.8 510.3 65.0 510.9 64.9 511.5 64.7 512.1 65.7 512.7 66.0 513.4 67.7 514.0 68.9 514.7 69.8 515.3 69.9 516.0 70.1 516.7 70.2 517.3 71.1 517.9 72.0 518.6 73.1 519.3 73.2 519.9 74.2 520.6 75.2 521.4 76.5 522.2 77.0 522.9 77.2 523.7 77.4 524.4 75.8 525.2 75.5 526.0 75.3 526.9 75.8 527.7 75.7 528.6 76.0 529.5 77.3 530.3 77.2 531.2 76.7 532.1 77.0 532.9 77.5 533.7 77.5 534.6 77.2 535.5 77.3 536.3 77.8 537.2 77.5 538.1 76.5 539.0 75.9 539.9 75.5 540.8 76.6 541.6 75.9 542.4 77.3 543.2 77.4 543.9 77.4 544.6 75.8 545.2 75.0 545.8 74.1 546.4 74.5 546.9 74.2 547.5 73.8 547.9 72.7 548.4 73.1 548.9 71.5 549.3 71.1 549.7 70.1 550.2 70.0 550.6 68.4 551.1 68.4 551.5 66.5 552.0 66.7 552.5 65.6 553.0 64.7 553.5 64.6 554.0 64.0 554.5 62.3 555.0 61.8 555.5 60.7 556.0 60.0 556.5 60.5 557.1 59.8 557.6 58.4 558.2 58.6 559.0 57.7 559.9 58.4 560.8 59.5 561.7 59.2 562.6 57.3 563.5 58.4 564.4 58.3 565.0 59.5 565.6 59.7 566.1 60.7 566.7 59.5 567.3 60.7 567.8 60.0 568.4 61.1 568.9 63.3 569.5 63.9 570.0 64.7 570.6 65.4 571.2 66.6 571.8 66.4 572.3 67.6 572.9 67.8 573.4 67.9 573.9 68.9 574.5 69.5 575.1 69.6 575.6 69.4 576.2 71.0 576.7 70.6 577.3 72.0 577.9 71.7 578.4 72.6 579.0 73.1 579.6 74.4 580.1 75.9 580.7 76.5 581.3 76.9 581.8 77.8 582.3 76.8 582.9 78.6 583.4 78.4 583.9 79.7 584.4 79.8 585.0 80.8 585.5 81.7 586.0 81.7 586.5 82.8 587.1 82.2 587.6 83.7 588.1 84.1 588.6 84.7 589.1 84.8 589.7 85.3 590.2 86.5 590.7 86.6 591.2 87.8 591.7 88.8 592.3 89.5 592.9 90.0 593.5 92.5 594.2 92.7 594.8 92.2 595.4 93.3 596.0 93.0 596.6 93.6 597.2 94.2 597.8 96.2 598.5 95.7 599.1 96.8 599.9 96.0 600.7 96.6 601.5 97.0 602.3 98.0 603.2 97.9 604.0 97.0 604.9 98.3 605.7 97.2 606.6 98.9 607.3 98.4 608.1 98.5 608.8 96.6 609.6 96.3 610.4 97.0 611.2 97.1 611.9 97.1 612.7 97.2 613.5 97.9 614.3 96.9 615.0 96.4 615.8 92.5 616.5 92.8 617.1 92.6 617.8 93.2 618.4 92.6 619.0 92.5 619.6 90.4 620.2 90.3 620.8 88.5 621.4 90.1 622.0 87.1 622.6 87.0 623.2 85.6 623.7 85.9 624.3 84.3 624.8 84.5 625.4 81.8 625.9 82.1 626.4 81.7 627.0 81.2 627.6 80.9 628.1 83.3 628.6 83.8 629.2 83.9 629.7 80.9 630.2 78.2 630.7 83.5 631.2 75.4 631.7 82.8 632.1 76.9 632.6 82.6 633.3 77.3 634.0 80.2 634.6 81.0 635.2 76.4 635.8 81.9 636.4 85.5 636.7 78.5 637.0 89.4 637.2 78.1 637.4 84.7 637.6 83.6 637.8 79.3 638.0 77.2 638.2 73.2 638.3 72.6 638.5 76.2 638.7 72.3 638.9 68.2 639.2 72.7 639.5 61.8 639.8 65.0 640.1 59.9 640.6 61.5 641.3 61.7 642.0 70.1 642.8 72.5 643.6 69.5 644.4 74.8 645.0 77.1 645.5 73.7 645.9 71.9 646.0 78.1" stroke="#ff0000" stroke-width="5.2"/>
<path d="M44.0 93.0L44.1 91.9 44.3 91.8 44.6 92.2 45.0 91.4 45.5 91.1 46.1 89.8 46.8 91.2 47.6 92.5 48.4 92.6 49.3 92.1 50.3 90.7 51.3 91.5 52.4 92.3 53.4 92.2 54.5 90.9 55.6 91.1 56.7 89.4 57.8 90.1 58.9 93.5 60.0 93.4 61.1 90.3 62.1 91.5 63.0 91.0 63.9 91.5 64.8 92.3 65.7 93.1 66.5 92.7 67.4 93.6 68.3 93.2 69.3 91.7 70.2 90.2 71.2 90.9 72.1 93.3 73.0 92.4 74.0 91.0 74.9 91.8 75.8 91.9 76.8 90.6 77.6 90.2 78.5 90.1 79.4 89.1 80.2 90.2 80.9 91.8 81.7 91.3 82.4 91.5 83.0 90.4 83.6 90.3 84.2 91.2 84.7 91.4 85.8 93.0 86.6 91.9 87.3 93.7 88.0 93.0 88.6 93.4 89.2 92.9 89.7 93.5 90.3 95.2 90.9 94.8 91.5 96.0 92.2 96.2 92.8 95.2 93.5 93.3 94.2 93.0 95.0 92.2 95.8 92.4 96.7 92.8 97.5 92.8 98.4 94.1 99.2 94.4 100.0 94.9 100.5 95.7 101.0 96.3 101.5 97.0 101.9 98.5 102.3 98.9 102.7 100.8 103.2 101.3 103.6 103.0 104.0 102.6 104.4 103.8 104.8 104.1 105.1 104.3 105.5 103.5 105.9 105.6 106.2 105.8 106.6 107.9 107.0 108.5 107.4 109.9 107.8 110.4 108.2 111.9 108.6 111.6 109.0 112.9 109.4 113.0 109.8 113.0 110.2 112.9 110.6 114.1 111.1 115.0 111.5 115.6 111.9 116.7 112.4 116.4 112.9 118.3 113.4 120.4 113.9 121.8 114.4 122.3 114.9 122.8 115.4 122.9 115.9 123.9 116.4 123.8 116.9 123.8 117.5 124.4 118.0 125.6 118.6 125.4 119.1 126.2 119.7 126.5 120.3 128.0 120.9 128.4 121.5 130.0 122.0 131.0 122.6 131.8 123.2 132.5 123.8 130.9 124.4 130.6 125.0 132.0 125.7 132.8 126.3 133.6 127.0 134.4 127.7 135.1 128.4 135.3 129.1 135.2 129.7 135.4 130.4 136.4 131.1 136.9 131.8 137.6 132.4 138.3 133.1 138.4 133.7 139.2 134.3 139.4 135.2 139.5 136.1 139.2 137.0 139.6 137.9 140.1 138.8 140.6 139.6 140.4 140.5 140.2 141.4 140.5 142.3 140.3 143.1 140.5 144.0 139.8 144.9 138.9 145.8 138.6 146.7 138.4 147.3 138.2 147.8 137.5 148.4 137.1 149.0 136.8 149.6 136.4 150.2 136.0 150.8 136.2 151.3 135.7 151.9 135.0 152.5 134.2 153.1 133.3 153.7 132.2 154.3 131.7 154.9 131.0 155.5 131.0 156.0 130.7 156.6 130.1 157.1 129.4 157.6 128.7 158.1 128.3 158.6 127.7 159.1 126.8 159.6 126.5 160.0 125.8 160.5 125.0 161.0 124.4 161.5 123.8 161.9 122.8 162.4 121.7 162.9 120.9 163.4 120.5 163.8 119.8 164.3 118.9 164.7 118.4 165.2 117.6 165.7 117.1 166.1 116.7 166.6 115.7 167.0 115.2 167.5 114.5 167.9 113.9 168.3 113.0 168.8 112.3 169.2 112.1 169.6 110.8 170.0 110.2 170.5 108.9 170.9 108.0 171.3 107.1 171.7 106.1 172.2 105.5 172.6 105.4 173.0 104.4 173.4 103.9 173.9 103.6 174.3 102.8 174.7 102.0 175.2 101.8 175.6 101.4 176.0 100.4 176.5 100.2 177.2 99.4 177.8 99.3 178.5 98.5 179.2 97.9 179.9 96.9 180.6 96.0 181.3 96.2 181.9 96.6 182.6 96.1 183.3 95.4 183.9 95.1 184.5 94.2 185.2 93.5 185.7 92.7 186.3 92.7 186.9 92.5 187.5 91.8 188.1 91.4 188.7 90.8 189.3 90.5 190.0 90.2 190.6 89.4 191.3 88.9 191.9 88.4 192.6 88.0 193.3 87.3 194.0 86.9 194.7 86.4 195.4 86.0 196.1 85.8 196.9 85.1 197.6 84.5 198.4 83.9 199.1 83.5 199.9 83.0 200.5 82.5 201.2 82.0 201.9 81.5 202.5 81.0 203.2 80.5 203.9 79.8 204.7 79.3 205.4 78.9 206.1 78.3 206.8 77.6 207.5 77.3 208.3 76.9 209.0 76.3 209.7 76.1 210.4 75.9 211.1 75.4 211.7 75.3 212.4 75.1 213.0 75.0 213.6 74.9 214.5 74.7 215.4 74.5 216.2 74.8 217.1 74.8 217.9 75.4 218.7 75.8 219.5 76.4 220.2 77.0 221.0 77.0 221.9 77.0 222.8 77.4 223.6 77.5 224.5 77.7 225.3 77.8 226.0 77.4 226.6 77.1 227.1 76.5 227.6 75.8 228.0 75.2 228.5 74.6 229.1 73.8 229.7 73.1 230.4 72.9 231.2 72.6 232.0 72.2 232.9 72.0 233.8 71.7 234.7 71.6 235.5 71.2 236.4 71.0 237.1 70.3 237.7 69.8 238.3 69.4 238.8 68.9 239.2 68.7 239.7 68.2 240.2 67.4 240.8 66.5 241.4 65.9 242.1 65.2 242.6 64.7 243.2 64.5 243.9 64.3 244.5 63.9 245.2 63.6 245.9 63.5 246.7 63.1 247.4 62.5 248.2 62.2 249.0 61.7 249.8 61.8 250.6 61.6 251.4 61.3 252.2 60.9 253.1 60.8 253.9 60.3 254.7 60.0 255.5 59.6 256.2 59.4 257.0 59.2 257.8 58.8 258.6 58.3 259.3 57.7 260.1 57.3 260.9 57.2 261.6 57.2 262.4 56.5 263.2 56.2 264.0 55.9 264.7 55.7 265.5 55.8 266.3 55.4 267.1 55.0 267.9 54.5 268.7 54.3 269.5 54.2 270.3 53.9 271.1 53.7 271.9 53.6 272.7 53.5 273.4 53.2 274.2 52.9 275.0 52.9 275.8 52.6 276.6 52.3 277.4 52.1 278.2 52.0 279.0 51.5 279.8 51.4 280.6 51.2 281.4 50.8 282.2 50.9 283.0 50.6 283.8 50.4 284.6 50.4 285.4 50.1 286.2 49.8 287.0 49.5 287.8 49.4 288.5 49.1 289.3 49.0 290.1 49.0 290.9 48.5 291.7 48.4 292.6 48.2 293.4 48.0 294.2 47.7 295.0 47.5 295.8 47.5 296.6 47.4 297.4 47.4 298.2 47.1 299.0 47.0 299.8 46.7 300.5 46.4 301.3 46.3 302.0 45.8 302.7 45.6 303.4 45.6 304.1 45.4 305.0 45.2 305.8 45.0 306.7 44.7 307.5 44.3 308.3 44.1 309.1 43.9 309.9 43.7 310.6 43.7 311.3 43.9 312.1 43.9 312.8 43.8 313.6 44.2 314.5 44.6 315.3 44.8 316.1 45.0 316.8 45.3 317.6 45.8 318.3 46.1 319.0 46.2 319.8 46.2 320.6 45.7 321.3 45.1 322.1 44.7 322.8 44.5 323.5 44.6 324.3 45.3 325.0 46.0 325.7 46.5 326.5 47.1 327.1 46.8 327.8 46.6 328.4 46.1 329.1 45.3 329.8 44.6 330.6 44.2 331.4 44.1 332.1 44.0 332.9 43.7 333.6 43.6 334.4 43.3 335.2 43.5 336.1 43.6 337.0 43.6 337.9 43.6 338.9 43.7 340.0 43.5 340.6 43.5 341.2 43.6 341.9 43.4 342.6 43.3 343.3 43.5 344.0 43.6 344.8 43.8 345.6 43.9 346.3 43.9 347.1 43.7 348.0 43.7 348.8 43.7 349.6 43.9 350.5 43.8 351.3 43.4 352.2 43.6 353.1 43.7 353.9 43.8 354.8 43.9 355.7 43.7 356.5 43.8 357.4 43.9 358.3 44.1 359.1 44.0 360.0 44.2 360.8 44.2 361.6 44.2 362.5 44.2 363.3 44.4 364.0 44.2 364.8 44.3 365.7 44.3 366.6 44.4 367.4 44.4 368.3 44.2 369.2 44.2 370.0 44.1 370.9 44.2 371.8 44.3 372.6 44.3 373.5 44.3 374.3 44.6 375.2 44.3 376.0 44.6 376.9 44.4 377.7 44.2 378.5 44.2 379.3 44.4 380.1 44.6 380.9 45.6 381.7 44.8 382.5 45.4 383.2 46.1 384.0 46.1 384.7 44.8 385.6 45.4 386.5 46.9 387.4 46.2 388.2 46.0 389.1 46.3 389.9 47.2 390.7 45.8 391.5 45.9 392.3 46.5 393.1 46.2 393.9 45.7 394.7 45.9 395.5 45.2 396.3 45.6 397.1 47.0 397.9 48.8 398.7 48.7 399.5 48.8 400.3 49.7 401.1 49.1 401.9 48.0 402.7 48.7 403.5 48.6 404.3 49.1 405.0 49.8 405.8 50.3 406.6 49.9 407.3 50.8 408.1 52.2 408.8 51.8 409.5 51.9 410.2 51.8 410.9 51.9 411.6 51.8 412.2 52.8 412.9 54.4 413.5 55.0 414.2 56.1 414.8 56.0 415.4 56.8 416.0 56.8 416.6 57.9 417.2 57.8 417.8 58.9 418.3 59.4 418.9 58.9 419.4 59.3 420.1 60.3 420.8 61.8 421.5 63.0 422.2 64.0 422.8 64.7 423.4 65.6 423.9 64.9 424.4 64.9 424.7 64.7 425.0 65.3 425.2 63.6 425.4 62.9 425.6 61.6 425.8 61.8 425.9 59.5 426.1 58.3 426.2 57.6 426.3 56.6 426.4 54.3 426.5 54.0 426.6 52.9 426.7 52.1 426.9 51.2 427.0 51.1 427.1 50.8 427.3 50.8 427.5 50.0 427.7 49.9 427.9 51.2 428.1 51.2 428.4 53.1 428.6 53.8 428.8 55.2 429.0 56.5 429.2 57.4 429.4 58.3 429.6 58.6 429.8 60.0 429.9 60.3 430.0 60.1 430.1 61.7 430.2 61.6 430.3 62.3 430.4 62.4 430.5 64.1 430.6 64.2 430.7 65.4 430.8 66.3 430.9 66.5 431.0 67.4 431.1 68.1 431.2 68.6 431.3 70.4 431.3 71.4 431.4 70.9 431.5 71.8 431.6 73.4 431.7 73.6 431.8 75.1 431.9 75.8 432.0 76.5 432.1 78.3 432.2 78.8 432.4 80.2 432.5 79.8 432.6 80.9 432.7 82.0 432.9 83.0 433.0 83.1 433.2 83.7 433.4 85.0 433.6 86.4 433.9 88.1 434.1 88.8 434.3 90.3 434.6 91.4 434.8 91.8 435.1 93.0 435.3 94.4 435.6 95.0 435.8 95.2 436.1 95.4 436.3 96.8 436.6 96.4 436.8 96.6 437.2 96.6 437.7 96.9 438.1 95.9 438.5 95.1 438.9 93.0 439.3 91.3 439.4 91.3 439.6 89.5 439.7 89.6 439.8 89.5 439.9 87.8 440.0 86.8 440.1 86.0 440.2 85.2 440.3 85.6 440.4 84.3 440.5 84.2 440.5 83.4 440.6 81.3 440.7 81.0 440.7 80.1 440.8 79.3 440.9 78.0 440.9 77.6 441.0 76.8 441.0 76.2 441.1 75.5 441.1 75.4 441.2 73.1 441.2 72.3 441.3 72.7 441.4 70.9 441.4 70.5 441.5 69.4 441.6 69.6 441.6 68.9 441.7 67.6 441.8 66.0 441.9 65.6 441.9 65.2 442.0 64.0 442.1 62.6 442.2 61.7 442.2 60.1 442.3 59.6 442.4 59.3 442.4 57.5 442.5 56.6 442.6 55.1 442.7 55.0 442.7 53.6 442.8 52.6 442.9 52.4 443.0 50.8 443.1 49.7 443.1 50.0 443.2 49.5 443.3 47.9 443.4 48.0 443.5 48.6 443.6 47.8 443.7 47.5 443.8 47.2 444.0 47.7 444.1 48.6 444.3 49.8 444.4 50.1 444.6 51.5 444.7 51.4 444.9 51.8 445.1 53.1 445.2 54.0 445.4 54.4 445.6 55.3 445.8 57.5 446.0 58.2 446.2 57.7 446.4 58.2 446.6 60.4 446.8 59.9 447.0 61.0 447.2 61.8 447.4 62.8 447.6 63.5 447.9 65.2 448.1 66.7 448.3 66.6 448.6 68.2 448.8 68.4 449.0 70.3 449.3 71.2 449.5 71.8 449.7 71.9 450.0 71.9 450.2 73.5 450.4 73.1 450.6 75.0 450.9 75.1 451.1 77.1 451.4 77.1 451.6 78.8 451.9 79.4 452.1 79.9 452.4 81.1 452.6 81.8 452.9 82.0 453.1 83.3 453.3 83.7 453.6 84.3 453.8 83.8 454.0 84.2 454.3 83.3 454.5 83.3 454.8 82.3 455.0 82.4 455.2 80.6 455.5 79.8 455.7 78.4 455.9 77.8 456.1 77.1 456.4 75.6 456.6 74.5 456.8 74.9 456.9 73.3 457.1 72.4 457.2 71.8 457.3 71.7 457.5 70.6 457.6 69.9 457.7 68.3 457.8 66.9 457.9 66.1 458.0 64.3 458.1 64.2 458.2 63.4 458.3 62.4 458.4 61.3 458.6 60.0 458.7 59.3 458.8 57.5 459.0 57.1 459.1 55.7 459.3 56.3 459.4 55.0 459.6 53.9 459.8 54.9 460.1 54.0 460.3 53.2 460.9 54.3 461.5 54.4 462.1 55.1 462.8 56.2 463.5 56.0 464.1 56.5 464.6 57.9 465.2 58.6 465.7 60.8 466.2 61.6 466.7 61.9 467.3 62.3 467.8 62.4 468.4 62.8 469.0 62.7 469.7 61.9 470.3 61.3 470.9 60.3 471.5 60.4 471.9 59.8 472.3 60.3 472.7 61.7 473.0 61.4 473.4 62.8 473.8 63.4 474.1 63.2 474.5 64.8 474.9 65.9 475.2 66.8 475.6 66.9 476.0 68.7 476.7 69.3 477.5 72.0 478.2 71.3 479.0 70.2 479.4 69.0 479.8 68.7 480.3 68.7 480.7 67.4 481.1 66.8 481.5 67.1 482.0 66.4 482.4 64.4 482.9 64.0 483.4 63.2 483.9 62.3 484.7 62.8 485.5 61.9 486.3 62.6 487.2 61.5 488.0 60.5 488.9 61.9 489.7 61.6 490.5 62.1 491.3 61.4 492.2 60.9 493.0 59.9 493.9 59.4 494.9 60.1 495.6 59.4 496.4 61.1 497.2 61.1 498.0 60.4 498.9 59.7 499.7 60.0 500.6 62.4 501.5 62.4 502.4 62.1 503.2 61.6 504.0 62.5 504.8 62.3 505.5 62.4 506.1 62.8 506.8 63.2 507.5 62.5 508.1 62.4 508.6 60.9 509.2 60.5 509.7 58.7 510.1 59.4 510.6 58.9 511.1 57.9 511.6 57.6 512.0 57.5 512.4 58.4 512.7 58.9 513.1 60.1 513.5 60.8 513.9 62.0 514.3 63.7 514.8 63.8 515.2 64.6 515.6 65.0 516.1 65.4 516.5 67.0 517.0 66.7 517.4 68.1 517.9 67.4 518.4 69.2 519.0 69.0 519.5 70.1 520.0 69.6 520.6 70.8 521.2 71.6 521.8 71.5 522.4 72.2 523.0 73.9 523.6 75.3 524.3 75.8 524.9 75.2 525.7 76.1 526.4 77.9 527.1 78.0 527.9 78.7 528.6 80.5 529.4 80.9 530.2 80.7 530.9 81.3 531.7 81.1 532.4 81.2 533.1 80.2 533.8 80.9 534.4 81.0 535.0 80.8 535.7 80.9 536.4 81.1 537.0 81.8 537.6 80.5 538.2 78.4 538.7 76.5 539.3 76.3 539.8 75.6 540.4 74.3 540.9 73.0 541.5 73.0 542.0 71.9 542.4 72.0 542.8 72.1 543.2 71.6 543.6 71.1 544.0 70.7 544.4 70.3 544.8 68.5 545.2 68.8 545.6 67.1 545.9 66.2 546.3 65.8 546.7 65.0 547.1 63.1 547.5 62.5 547.8 61.7 548.2 60.4 548.7 60.5 549.1 60.8 549.5 59.0 550.0 58.6 550.5 59.2 551.0 58.1 551.6 57.3 552.1 57.2 552.7 55.6 553.2 53.7 553.8 52.7 554.3 52.3 554.9 51.5 555.4 50.7 556.0 49.5 556.5 50.7 557.0 48.9 557.5 48.9 558.3 49.5 559.0 50.2 559.8 50.6 560.5 50.9 561.2 52.2 561.9 53.1 562.6 53.8 563.4 54.0 564.1 52.4 564.8 51.0 565.6 50.2 566.0 51.5 566.5 51.3 567.0 52.2 567.5 53.9 568.0 53.6 568.5 55.5 569.0 55.1 569.5 56.2 570.0 56.7 570.5 57.6 571.1 58.3 571.6 58.2 572.1 59.5 572.7 60.7 573.2 59.8 573.8 60.3 574.3 60.8 574.8 61.8 575.4 63.1 575.9 66.0 576.5 66.9 577.0 65.7 577.6 67.0 578.2 66.7 578.7 66.5 579.3 68.1 579.9 67.4 580.4 68.8 581.0 69.4 581.6 70.0 582.1 69.8 582.7 70.2 583.2 71.6 583.8 72.3 584.3 74.3 584.8 75.7 585.2 75.4 585.7 77.0 586.2 77.7 586.6 77.0 587.1 77.6 587.5 77.8 587.9 79.4 588.4 78.9 588.8 79.3 589.3 80.5 589.7 81.1 590.2 82.2 590.6 82.4 591.0 84.5 591.5 84.7 591.9 85.1 592.4 86.2 592.8 85.3 593.3 86.9 593.7 87.1 594.2 86.6 594.9 88.1 595.5 88.7 596.2 90.9 596.8 91.6 597.5 91.3 598.2 92.1 598.8 91.7 599.5 92.5 600.2 92.6 600.9 93.0 601.6 93.0 602.4 94.1 603.2 93.5 604.0 95.2 604.8 93.7 605.7 93.8 606.5 92.1 607.4 90.5 608.2 91.4 609.1 92.1 609.9 91.4 610.7 91.4 611.5 90.8 612.3 91.8 613.1 92.8 614.0 93.5 614.8 92.8 615.7 91.5 616.5 91.8 617.3 90.1 618.2 89.0 619.0 86.9 619.8 87.3 620.6 87.9 621.4 86.5 622.2 87.7 623.0 86.3 623.8 89.3 624.6 89.1 625.4 90.6 626.2 88.5 626.9 86.9 627.6 85.1 628.3 87.0 628.9 87.6 629.6 84.5 630.3 83.4 630.9 84.1 631.5 90.5 632.0 74.7 632.6 87.7 633.2 84.9 633.9 81.7 634.7 76.1 635.6 81.9 636.5 82.3 637.4 78.8 638.3 90.2 639.2 84.6 640.1 72.9 641.1 82.1 642.1 85.5 643.3 89.2 644.3 86.7 645.2 85.0 645.8 72.3 646.0 78.4" stroke="#0000ff" stroke-width="5.2"/>
</g>
<rect x="48.5" y="2.5" width="593.9" height="389.7" fill="none" stroke="#000" stroke-width="1.35"/>
<path d="M48.5 27.0h8M48.5 51.4h4.5M48.5 75.7h8M48.5 100.1h4.5M48.5 124.4h8M48.5 148.8h4.5M48.5 173.1h8M48.5 197.5h4.5M48.5 221.8h8M48.5 246.2h4.5M48.5 270.5h8M48.5 294.9h4.5M48.5 319.2h8M48.5 343.6h4.5M48.5 367.9h8M48.5 392.3h4.5M48.5 392.2v-8M89.8 392.2v-4.5M131.1 392.2v-8M172.4 392.2v-4.5M213.7 392.2v-8M255.0 392.2v-4.5M296.3 392.2v-8M337.6 392.2v-4.5M378.9 392.2v-8M420.2 392.2v-4.5M461.5 392.2v-8M502.8 392.2v-4.5M544.1 392.2v-8M585.4 392.2v-4.5M626.7 392.2v-8" stroke="#000" stroke-width="1.3" fill="none"/>
<text transform="translate(26.60,415.20) scale(0.9954,1)" font-size="20" font-family="'Liberation Sans', sans-serif" font-weight="bold">4000</text>
<text transform="translate(109.00,415.20) scale(1.0000,1)" font-size="20" font-family="'Liberation Sans', sans-serif" font-weight="bold">3500</text>
<text transform="translate(191.60,415.20) scale(1.0000,1)" font-size="20" font-family="'Liberation Sans', sans-serif" font-weight="bold">3000</text>
<text transform="translate(274.00,415.20) scale(1.0047,1)" font-size="20" font-family="'Liberation Sans', sans-serif" font-weight="bold">2500</text>
<text transform="translate(356.60,415.20) scale(1.0047,1)" font-size="20" font-family="'Liberation Sans', sans-serif" font-weight="bold">2000</text>
<text transform="translate(438.58,415.20) scale(1.0189,1)" font-size="20" font-family="'Liberation Sans', sans-serif" font-weight="bold">1500</text>
<text transform="translate(521.18,415.20) scale(1.0189,1)" font-size="20" font-family="'Liberation Sans', sans-serif" font-weight="bold">1000</text>
<text transform="translate(610.38,415.20) scale(0.9561,1)" font-size="20" font-family="'Liberation Sans', sans-serif" font-weight="bold">500</text>
<rect x="305.2" y="280.2" width="101.1" height="81" fill="#fff" stroke="#444" stroke-width="1"/>
<g stroke-linecap="round"><path d="M310.5 295.7H342" stroke="#000" stroke-width="4.8"/><path d="M310.5 324H342" stroke="#f00" stroke-width="4"/><path d="M310.5 351.9H342" stroke="#00f" stroke-width="4"/></g>
<text transform="translate(348.41,300.70) scale(0.9230,1)" font-size="23.5" font-family="'Liberation Serif', serif" font-weight="bold" letter-spacing="0.70">Seder</text>
<text transform="translate(348.96,328.60) scale(0.9549,1)" font-size="23.5" font-family="'Liberation Serif', serif" font-weight="bold" letter-spacing="0.70">B.S</text>
<text transform="translate(355.14,357.10) scale(1.0208,1)" font-size="23.5" font-family="'Liberation Serif', serif" font-weight="bold" letter-spacing="0.70">P.M</text>
<text transform="translate(101.82,53.30) scale(1.0747,1)" font-size="28.6" font-family="'Liberation Serif', serif" font-weight="bold" letter-spacing="0.86">(A)</text>
<text transform="translate(22.60,360.12) rotate(-90) scale(0.9755,1.070)" font-size="28.6" font-family="'Liberation Serif', serif" font-weight="bold" letter-spacing="0.86">Transmittance (arb.units)</text>
<text transform="translate(214.47,466.80) scale(0.9775,1)" font-size="29.5" font-family="'Liberation Serif', serif" font-weight="bold" letter-spacing="0.89">Wavenumber</text>
<text transform="translate(400.94,466.20) scale(1.0950,1)" font-size="15.4" font-family="'Liberation Serif', serif" font-weight="bold" letter-spacing="0.46">(</text>
<text transform="translate(406.26,466.80) scale(1.0102,1)" font-size="29.5" font-family="'Liberation Serif', serif" font-weight="bold" letter-spacing="0.89">cm</text>
<text transform="translate(445.63,457.00) scale(1.1824,1)" font-size="28.3" font-family="'Liberation Serif', serif" font-weight="bold" letter-spacing="0.85">-</text>
<text transform="translate(455.85,455.40) scale(0.9932,1)" font-size="28.3" font-family="'Liberation Serif', serif" font-weight="bold" letter-spacing="0.85">1</text>
<text transform="translate(471.85,466.20) scale(1.1988,1)" font-size="15.4" font-family="'Liberation Serif', serif" font-weight="bold" letter-spacing="0.46">)</text>
<text transform="translate(315.31,521.50) scale(1.0819,1)" font-size="18.3" font-family="'Liberation Sans', sans-serif" font-weight="bold">3</text>
<text transform="translate(380.04,674.40) scale(1.1840,1)" font-size="18.3" font-family="'Liberation Sans', sans-serif" font-weight="bold">2</text>
<text transform="translate(190.48,731.20) scale(0.9055,1)" font-size="19" font-family="'Liberation Sans', sans-serif" font-weight="bold">1</text>
<text transform="translate(283.09,660.90) scale(1.0723,1)" font-size="19" font-family="'Liberation Sans', sans-serif" font-weight="bold">4</text>
<line x1="338.0" y1="556.0" x2="338.0" y2="532.2" stroke="#000" stroke-width="0.9"/><polygon points="338.0,523.2 340.6,532.2 335.4,532.2" fill="#000"/>
<line x1="373.8" y1="578.0" x2="373.8" y2="636.1" stroke="#000" stroke-width="0.9"/><polygon points="373.8,645.1 371.2,636.1 376.4,636.1" fill="#000"/>
<line x1="146.8" y1="692.3" x2="166.9" y2="708.9" stroke="#000" stroke-width="0.9"/><polygon points="173.8,714.6 165.2,710.9 168.5,706.9" fill="#000"/>
<line x1="251.4" y1="616.8" x2="267.0" y2="640.3" stroke="#000" stroke-width="0.9"/><polygon points="272.0,647.8 264.9,641.7 269.2,638.9" fill="#000"/>
<clipPath id="cb"><rect x="43.5" y="488.5" width="594.9" height="373.4"/></clipPath>
<g fill="none" stroke-linejoin="round" stroke-linecap="round" clip-path="url(#cb)">
<path d="M40.0 635.2L40.1 635.4 40.2 635.2 40.5 635.2 40.8 635.1 41.3 634.9 41.8 634.7 42.4 634.7 43.0 634.8 43.7 634.7 44.5 634.5 45.4 634.4 46.3 634.3 47.2 634.0 48.2 634.0 49.2 633.8 50.2 633.4 51.2 633.1 52.3 633.0 53.3 632.7 54.4 632.8 55.5 632.7 56.5 632.4 57.6 632.1 58.6 631.7 59.6 631.5 60.6 631.2 61.5 630.9 62.4 630.8 63.3 630.5 64.1 630.2 64.8 630.2 65.7 630.0 66.5 629.8 67.3 629.3 68.1 628.9 68.9 628.8 69.7 628.8 70.4 628.6 71.2 628.2 72.0 627.6 72.7 627.3 73.4 627.0 74.2 626.5 74.9 626.2 75.7 626.0 76.4 625.7 77.1 625.5 77.9 625.1 78.6 624.7 79.4 624.4 80.1 624.3 80.9 624.0 81.7 623.8 82.6 623.6 83.4 623.3 84.3 622.8 85.2 622.6 86.1 622.2 87.0 621.8 87.9 621.7 88.8 621.4 89.7 621.0 90.6 620.9 91.4 620.7 92.2 620.4 93.1 620.3 93.8 620.1 94.6 620.0 95.3 620.0 95.9 619.9 96.5 619.8 97.1 619.7 97.9 620.3 98.5 620.6 99.1 621.2 99.6 621.9 100.1 622.7 100.6 623.3 101.0 624.0 101.5 624.9 101.8 625.6 102.1 626.1 102.5 626.6 102.8 627.2 103.1 627.9 103.3 628.5 103.6 629.3 103.9 630.2 104.2 630.9 104.5 631.9 104.7 632.7 105.0 633.6 105.3 634.5 105.6 635.4 105.8 636.2 106.1 637.0 106.4 638.0 106.7 638.7 107.0 639.4 107.2 640.2 107.5 640.7 107.7 641.5 108.0 642.1 108.2 643.1 108.4 643.9 108.7 644.6 108.9 645.6 109.1 646.3 109.4 647.4 109.6 648.2 109.9 649.1 110.1 649.8 110.3 650.7 110.6 651.4 110.8 652.3 111.1 652.8 111.3 653.8 111.6 654.5 111.9 655.2 112.1 656.0 112.4 656.8 112.7 657.5 112.9 658.2 113.2 658.9 113.5 659.6 113.8 660.3 114.1 661.1 114.4 661.7 114.8 662.4 115.1 663.4 115.5 664.2 115.9 665.0 116.3 665.9 116.7 666.7 117.1 667.5 117.5 668.1 117.9 668.8 118.3 669.5 118.7 670.2 119.1 670.9 119.6 671.5 120.0 672.2 120.4 673.0 120.9 673.5 121.3 674.1 121.7 675.0 122.2 675.4 122.6 676.1 123.1 676.8 123.6 677.5 124.2 678.2 124.7 678.8 125.3 679.3 125.8 680.1 126.4 680.6 127.0 681.3 127.5 681.7 128.1 682.5 128.7 683.2 129.3 683.8 129.9 684.4 130.5 684.8 131.2 685.3 131.8 685.7 132.5 685.9 133.2 686.2 134.0 686.6 134.8 687.0 135.6 687.5 136.4 688.1 137.2 688.2 138.0 688.3 138.8 688.5 139.5 688.9 140.3 689.1 141.0 689.2 141.7 689.2 142.6 689.3 143.4 689.1 144.2 689.0 145.0 688.6 145.7 688.3 146.5 687.6 147.2 687.2 147.9 686.6 148.4 686.2 148.9 685.6 149.4 685.1 149.9 684.4 150.4 683.9 150.8 683.2 151.3 682.5 151.7 681.8 152.2 681.0 152.6 680.1 153.1 679.5 153.6 678.5 154.1 677.9 154.5 677.3 154.9 676.9 155.3 676.4 155.7 675.9 156.2 675.3 156.6 674.6 157.0 673.7 157.4 673.0 157.9 672.2 158.3 671.3 158.8 670.7 159.2 670.0 159.7 669.5 160.2 668.9 160.6 668.3 161.1 667.6 161.6 666.9 162.1 666.2 162.6 665.5 163.1 664.9 163.6 664.0 164.1 663.4 164.6 662.6 165.1 662.1 165.5 661.6 166.0 661.1 166.5 660.5 167.1 659.8 167.6 659.1 168.1 658.4 168.6 657.7 169.2 656.9 169.7 656.2 170.3 655.7 170.8 655.1 171.4 654.7 171.9 654.0 172.5 653.4 173.0 652.6 173.6 652.1 174.1 651.3 174.7 650.8 175.2 650.0 175.8 649.4 176.3 648.9 176.9 648.3 177.4 647.6 177.9 647.2 178.5 646.7 179.0 645.8 179.6 645.3 180.2 644.5 180.8 644.1 181.4 643.4 182.0 642.9 182.6 642.4 183.3 641.7 183.9 641.3 184.5 640.5 185.1 640.2 185.7 639.4 186.3 638.8 186.9 638.4 187.5 637.6 188.1 637.1 188.6 636.7 189.2 636.1 189.8 635.6 190.3 635.1 190.9 634.6 191.4 634.1 192.0 633.6 192.6 632.8 193.2 632.2 193.7 631.6 194.3 630.9 194.8 630.1 195.3 629.4 195.9 628.9 196.4 628.3 196.9 627.8 197.5 627.6 198.1 627.0 198.6 626.5 199.3 625.6 199.9 625.2 200.5 624.6 201.1 624.1 201.8 623.6 202.5 623.2 203.1 622.6 203.8 622.3 204.5 621.9 205.3 621.3 206.0 620.6 206.7 620.1 207.4 619.6 208.1 619.0 208.9 618.7 209.6 618.3 210.3 617.8 211.0 617.7 211.6 617.5 212.3 617.3 213.2 617.1 214.1 616.9 215.0 616.9 216.0 616.7 216.9 616.8 217.7 616.8 218.6 616.9 219.4 616.9 220.2 616.8 221.0 616.6 221.7 616.2 222.3 615.8 222.9 615.1 223.4 614.5 223.9 613.5 224.5 612.9 225.0 612.2 225.5 611.7 226.0 611.0 226.6 610.3 227.2 609.8 227.9 609.8 228.7 609.5 229.5 609.1 230.3 608.9 231.1 608.4 231.9 608.1 232.7 607.8 233.4 607.4 233.9 606.8 234.4 606.5 234.9 605.9 235.4 605.3 235.8 604.4 236.2 603.9 236.7 603.0 237.2 602.4 237.7 601.7 238.3 601.2 238.9 600.3 239.6 599.6 240.1 599.4 240.7 598.9 241.2 598.7 241.8 598.4 242.5 598.1 243.1 597.7 243.8 597.5 244.5 597.2 245.2 596.8 246.0 596.7 246.7 596.4 247.5 596.0 248.2 595.7 249.0 595.3 249.8 595.2 250.6 595.0 251.4 594.6 252.3 594.5 253.1 594.2 253.9 593.8 254.7 593.7 255.5 593.1 256.3 592.8 257.1 592.3 257.9 592.1 258.7 591.6 259.5 591.3 260.2 591.0 260.9 590.5 261.6 590.3 262.3 589.8 263.0 589.5 263.7 589.2 264.4 589.0 265.2 588.6 265.9 588.2 266.6 587.8 267.3 587.4 268.0 587.1 268.8 586.8 269.5 586.6 270.2 586.2 271.0 585.8 271.7 585.3 272.4 584.6 273.2 584.2 273.9 583.7 274.7 583.2 275.4 583.0 276.1 582.7 276.9 582.5 277.6 582.0 278.4 581.6 279.1 581.1 279.8 580.8 280.6 580.4 281.3 580.2 282.1 579.8 282.8 579.7 283.6 579.5 284.3 579.0 285.1 578.6 285.9 578.2 286.7 577.9 287.5 577.8 288.4 577.3 289.3 576.8 290.2 576.5 291.1 576.1 292.0 575.9 292.9 575.7 293.8 575.3 294.7 575.0 295.6 574.4 296.5 574.0 297.4 573.5 298.3 573.1 299.2 572.8 300.0 572.6 300.9 572.5 301.7 572.2 302.5 572.1 303.2 571.7 304.0 571.5 304.7 571.2 305.4 571.0 306.1 570.9 306.7 570.6 307.2 570.7 307.8 570.7 308.3 570.7 308.7 570.8 309.1 570.7 310.2 571.2 310.9 571.6 311.6 572.3 312.0 572.9 312.4 573.8 312.7 574.6 313.1 575.8 313.4 576.6 313.8 577.4 314.2 577.9 314.6 578.4 315.1 578.1 315.6 577.7 316.1 577.1 316.6 576.3 317.2 575.6 317.8 574.7 318.4 574.1 319.0 573.1 319.5 572.7 319.9 572.0 320.4 571.3 320.9 570.6 321.4 570.2 321.9 569.5 322.4 568.9 322.9 568.4 323.4 567.7 324.0 567.1 324.6 566.4 325.2 566.0 325.8 565.4 326.5 564.8 327.2 564.3 327.9 564.0 328.7 563.8 329.4 563.8 330.2 563.6 331.1 563.3 331.9 562.8 332.8 562.7 333.6 562.7 334.5 562.4 335.4 562.4 336.3 562.5 337.1 562.2 338.0 562.1 338.9 561.8 339.6 561.6 340.3 561.5 341.1 561.2 341.8 561.0 342.5 560.6 343.3 560.3 344.0 560.3 344.7 559.8 345.5 559.8 346.2 559.4 347.0 558.8 347.8 558.5 348.5 558.3 349.3 558.4 350.1 558.1 350.9 557.5 351.7 557.1 352.5 556.7 353.3 556.6 354.1 556.5 354.9 556.1 355.6 556.0 356.3 555.8 357.0 555.5 357.8 555.3 358.5 555.1 359.3 554.8 360.0 554.5 360.8 554.3 361.5 554.0 362.3 553.3 363.0 553.1 363.8 552.8 364.6 552.6 365.4 552.4 366.1 552.1 366.9 551.9 367.7 551.6 368.5 551.3 369.3 550.7 370.1 550.3 370.9 550.4 371.7 550.3 372.4 549.9 373.2 549.7 374.0 549.3 374.8 549.0 375.6 548.6 376.4 548.3 377.2 548.0 377.9 547.8 378.7 547.5 379.4 547.3 380.2 547.0 380.9 546.5 381.7 546.3 382.5 546.0 383.3 545.7 384.0 545.6 384.8 545.4 385.6 544.8 386.4 544.5 387.2 544.1 388.0 544.0 388.8 543.8 389.5 543.6 390.3 543.4 391.1 543.2 391.9 542.9 392.6 542.5 393.4 541.9 394.2 541.8 394.9 541.5 395.7 541.4 396.4 541.1 397.1 540.6 397.9 540.1 398.6 540.1 399.3 539.9 400.0 539.9 400.7 539.8 401.3 539.2 402.0 538.8 402.8 538.0 403.7 538.6 404.5 538.4 405.4 537.7 406.2 537.4 407.0 536.5 407.9 536.5 408.7 536.8 409.5 536.3 410.3 535.5 411.0 534.7 411.8 533.9 412.5 534.0 413.2 533.3 413.9 533.2 414.6 533.5 415.2 533.3 415.8 533.5 416.4 532.6 416.9 532.8 417.9 531.9 418.7 531.7 419.5 530.6 420.2 530.4 420.9 530.0 421.5 529.0 422.0 527.7 422.4 527.0 422.8 525.3 423.2 525.0 423.5 523.7 423.9 523.4 424.2 522.9 424.5 523.3 424.7 523.9 425.0 524.0 425.2 524.9 425.4 526.3 425.7 526.8 425.9 527.7 426.1 529.5 426.3 530.3 426.6 531.3 426.8 532.4 427.0 532.7 427.2 533.6 427.4 534.2 427.6 534.9 427.8 536.3 428.0 536.5 428.1 537.9 428.3 538.3 428.5 539.4 428.7 539.8 428.9 540.7 429.1 541.9 429.3 542.6 429.6 543.3 429.8 544.2 430.1 545.4 430.4 546.8 430.7 548.4 431.0 549.1 431.4 550.5 431.7 551.1 432.0 551.5 432.4 552.0 432.7 552.5 433.0 552.8 433.4 552.6 433.9 552.0 434.3 551.2 434.8 549.9 435.1 548.9 435.5 547.7 435.7 547.3 435.8 546.4 436.0 545.6 436.1 544.8 436.2 543.7 436.3 543.1 436.4 541.9 436.4 541.2 436.5 540.1 436.6 539.5 436.7 538.4 436.7 538.0 436.8 537.1 436.9 535.7 437.0 534.8 437.1 534.0 437.2 533.5 437.3 532.7 437.5 531.6 437.6 530.7 437.8 529.5 438.0 528.5 438.2 527.4 438.4 526.7 438.6 525.9 438.8 524.7 439.0 524.8 439.3 524.0 439.6 524.3 440.0 524.8 440.4 526.0 440.8 526.8 441.2 528.0 441.7 528.7 442.2 528.8 443.0 529.7 443.8 530.5 444.7 530.9 445.5 531.0 446.1 531.3 446.6 531.8 447.2 533.2 447.7 534.3 448.2 535.4 448.7 535.9 449.2 535.7 449.6 536.1 450.0 534.9 450.3 534.2 450.7 533.3 451.0 531.9 451.4 530.8 451.7 529.8 452.1 529.6 452.5 528.9 452.9 528.7 453.5 528.5 454.1 528.6 454.7 529.0 455.3 530.3 456.0 531.2 456.6 531.9 457.1 532.5 457.6 532.8 458.1 534.3 458.6 535.2 459.1 536.6 459.6 536.9 460.1 538.0 460.6 538.2 461.1 537.8 461.6 537.6 462.1 536.7 462.7 536.2 463.2 536.1 463.7 534.8 464.3 534.6 464.8 533.6 465.3 533.5 465.9 533.4 466.5 533.5 467.1 534.5 467.7 535.1 468.3 536.4 469.0 536.7 469.8 537.2 470.6 538.1 471.5 538.3 472.3 539.2 473.2 539.6 474.0 539.4 474.7 539.5 475.3 538.9 476.0 538.0 476.6 537.5 477.2 537.0 477.8 536.1 478.4 535.0 479.0 534.3 479.4 533.6 479.8 533.3 480.2 532.0 480.6 531.8 480.9 530.8 481.3 530.4 481.6 529.7 482.0 528.5 482.3 527.7 482.7 527.5 483.1 526.5 483.5 525.7 483.9 525.6 484.4 524.7 484.8 523.8 485.3 522.5 485.8 522.1 486.3 521.3 486.8 520.4 487.3 519.3 487.8 519.0 488.4 518.1 488.9 517.7 489.5 517.0 490.1 517.2 490.8 516.7 491.6 515.7 492.4 515.4 493.2 515.1 494.0 515.3 494.9 515.5 495.7 515.1 496.6 515.3 497.4 515.5 498.2 515.4 499.1 514.9 500.0 514.6 500.9 514.4 501.7 514.3 502.6 514.4 503.4 514.5 504.2 515.2 504.9 514.8 505.6 515.6 506.2 516.0 506.7 517.0 507.3 517.5 507.8 518.3 508.3 518.8 508.8 519.5 509.3 520.1 509.8 521.2 510.2 521.8 510.6 522.5 511.0 523.0 511.4 523.6 511.9 524.8 512.3 525.5 512.7 526.7 513.1 527.2 513.5 528.1 513.9 528.2 514.3 528.7 514.7 529.5 515.2 530.5 515.6 531.1 516.0 531.7 516.5 532.7 516.9 533.0 517.3 534.2 517.8 534.9 518.2 535.8 518.6 536.7 519.1 536.9 519.5 537.8 520.0 538.8 520.5 539.4 521.0 539.5 521.6 540.2 522.2 541.1 522.9 541.2 523.6 541.8 524.4 542.1 525.2 541.8 526.0 542.0 526.9 542.9 527.7 542.7 528.6 543.2 529.4 543.8 530.2 544.0 530.9 543.7 531.7 542.6 532.5 541.9 533.3 542.0 534.0 542.1 534.8 541.7 535.5 540.6 536.3 540.5 537.1 540.4 537.9 539.6 538.7 539.5 539.6 539.9 540.5 539.5 541.4 540.0 542.2 540.5 543.1 540.9 543.9 541.5 544.6 541.6 545.1 541.2 545.6 541.8 546.0 542.6 546.4 543.2 546.8 543.9 547.2 545.5 547.6 545.9 547.9 547.0 548.3 547.5 548.6 548.6 549.0 548.9 549.3 549.3 549.7 550.4 550.0 550.7 550.4 551.8 550.8 552.1 551.3 553.1 551.7 554.1 552.2 555.5 552.7 556.2 553.2 556.8 553.6 557.3 554.1 557.8 554.6 558.7 555.1 559.8 555.6 560.8 556.0 561.4 556.5 561.8 557.0 561.6 557.6 562.0 558.2 561.7 558.9 561.5 559.5 560.1 560.1 558.9 560.7 558.4 561.3 557.2 561.9 556.4 562.3 555.7 562.7 555.3 563.0 555.0 563.4 554.3 563.7 553.3 564.1 552.7 564.4 551.7 564.7 551.1 565.1 550.9 565.4 550.1 565.8 549.2 566.1 548.0 566.5 547.1 566.9 545.6 567.3 545.1 567.7 544.7 568.1 544.2 568.7 543.3 569.3 542.5 569.9 542.3 570.5 541.7 571.1 540.8 571.8 540.7 572.4 539.9 573.1 539.6 573.7 539.6 574.3 539.3 575.0 539.0 575.8 539.0 576.5 539.1 577.2 540.1 578.0 540.8 578.6 541.0 579.3 542.1 579.8 541.7 580.2 542.5 580.7 543.2 581.1 543.8 581.5 544.7 581.9 545.1 582.3 546.0 582.6 547.1 583.0 547.9 583.4 548.7 583.9 549.5 584.3 551.0 584.7 552.0 585.0 552.5 585.4 553.6 585.8 553.8 586.2 554.4 586.6 554.8 587.0 555.3 587.4 556.2 587.8 556.9 588.2 557.8 588.6 559.2 589.0 559.7 589.4 560.8 589.8 561.6 590.2 562.4 590.5 563.2 590.9 564.2 591.3 564.3 591.7 565.0 592.1 566.3 592.5 566.4 592.9 567.2 593.3 567.9 593.8 568.6 594.2 569.5 594.6 570.2 595.0 571.1 595.4 571.6 595.8 572.1 596.2 573.4 596.5 574.0 596.9 574.5 597.2 575.0 597.6 575.5 597.9 576.3 598.2 577.5 598.5 577.8 598.8 579.0 599.0 579.1 599.3 579.9 599.5 581.0 599.8 581.2 600.0 581.9 600.2 583.0 600.4 583.8 600.6 584.6 600.8 585.4 601.0 586.2 601.2 587.0 601.4 587.8 601.6 588.7 601.8 589.4 601.9 590.2 602.1 590.9 602.2 591.7 602.3 592.5 602.5 593.3 602.6 594.1 602.7 594.9 602.8 595.7 603.0 596.5 603.1 597.3 603.2 598.1 603.3 598.9 603.4 599.8 603.5 600.6 603.6 601.5 603.7 602.3 603.8 603.2 603.9 604.1 604.0 605.0 604.1 605.9 604.2 606.6 604.3 607.4 604.3 608.1 604.4 608.9 604.5 609.6 604.6 610.4 604.7 611.2 604.7 612.0 604.8 612.8 604.9 613.6 605.0 614.3 605.0 615.1 605.1 616.0 605.2 616.8 605.2 617.6 605.3 618.4 605.4 619.2 605.4 620.1 605.5 620.9 605.6 621.7 605.6 622.6 605.7 623.4 605.7 624.3 605.8 625.1 605.8 626.0 605.9 626.9 605.9 627.8 606.0 628.6 606.1 629.5 606.1 630.4 606.1 631.1 606.2 631.9 606.2 632.6 606.3 633.4 606.3 634.1 606.3 634.9 606.4 635.7 606.4 636.4 606.4 637.2 606.4 638.0 606.5 638.7 606.5 639.5 606.5 640.3 606.5 641.1 606.6 641.8 606.6 642.6 606.6 643.4 606.6 644.2 606.7 645.0 606.7 645.8 606.7 646.6 606.7 647.4 606.7 648.3 606.8 649.1 606.8 649.9 606.8 650.7 606.8 651.5 606.8 652.4 606.9 653.2 606.9 654.0 606.9 654.9 606.9 655.7 606.9 656.6 606.9 657.4 607.0 658.3 607.0 659.1 607.0 660.0 607.0 660.8 607.0 661.7 607.0 662.6 607.1 663.4 607.1 664.3 607.1 665.2 607.1 665.9 607.1 666.7 607.1 667.4 607.2 668.2 607.2 668.9 607.2 669.7 607.2 670.5 607.2 671.2 607.2 672.0 607.2 672.8 607.2 673.6 607.3 674.4 607.3 675.2 607.3 676.0 607.3 676.8 607.3 677.6 607.3 678.4 607.3 679.2 607.3 680.0 607.3 680.8 607.4 681.6 607.4 682.4 607.4 683.2 607.4 684.1 607.4 684.9 607.4 685.7 607.4 686.5 607.4 687.3 607.4 688.2 607.4 689.0 607.4 689.8 607.5 690.7 607.5 691.5 607.5 692.3 607.5 693.2 607.5 694.0 607.5 694.8 607.5 695.6 607.5 696.5 607.5 697.3 607.5 698.1 607.5 699.0 607.6 699.8 607.6 700.6 607.6 701.4 607.6 702.3 607.6 703.1 607.6 703.9 607.6 704.7 607.6 705.6 607.7 706.4 607.7 707.2 607.7 708.0 607.7 708.8 607.7 709.6 607.7 710.4 607.7 711.2 607.8 712.0 607.8 712.8 607.8 713.6 607.8 714.4 607.8 715.2 607.8 716.1 607.8 716.9 607.9 717.8 607.9 718.6 607.9 719.4 607.9 720.3 607.9 721.1 607.9 722.0 607.9 722.8 608.0 723.7 608.0 724.5 608.0 725.4 608.0 726.3 608.0 727.1 608.0 728.0 608.0 728.8 608.0 729.7 608.0 730.5 608.1 731.4 608.1 732.2 608.1 733.1 608.1 733.9 608.1 734.8 608.1 735.6 608.1 736.5 608.1 737.3 608.2 738.1 608.2 739.0 608.2 739.8 608.2 740.6 608.2 741.5 608.3 742.3 608.3 743.1 608.3 743.9 608.3 744.7 608.3 745.5 608.4 746.3 608.4 747.1 608.4 747.9 608.5 748.7 608.5 749.5 608.5 750.3 608.6 751.0 608.6 751.8 608.6 752.6 608.7 753.3 608.7 754.1 608.8 754.8 608.8 755.5 608.9 756.3 608.9 757.0 609.0 757.7 609.0 758.4 609.1 759.1 609.2 760.0 609.3 760.9 609.4 761.8 609.4 762.7 609.5 763.6 609.6 764.4 609.7 765.3 609.8 766.1 609.9 766.9 610.0 767.8 610.1 768.6 610.2 769.4 610.3 770.2 610.4 771.0 610.5 771.8 610.7 772.5 610.8 773.3 610.9 774.1 611.0 774.9 611.2 775.6 611.3 776.4 611.4 777.1 611.6 777.9 611.7 778.7 611.8 779.4 612.0 780.2 612.1 780.9 612.3 781.7 612.5 782.4 612.6 783.2 612.8 783.9 613.0 784.7 613.2 785.5 613.4 786.4 613.6 787.2 613.8 788.0 614.0 788.8 614.2 789.7 614.4 790.5 614.6 791.3 614.8 792.1 615.0 792.9 615.3 793.7 615.5 794.5 615.7 795.3 616.0 796.1 616.2 796.8 616.5 797.6 616.7 798.3 617.0 799.1 617.3 799.8 617.5 800.5 617.8 801.2 618.1 801.9 618.4 802.5 618.7 803.2 619.0 803.8 619.4 804.6 619.9 805.4 620.4 807.4 620.9 807.2 621.4 808.8 621.9 809.3 622.4 809.3 622.9 810.4 623.4 811.6 624.0 811.1 624.5 812.8 625.0 813.6 625.5 813.8 625.9 814.4 626.4 813.8 626.9 814.8 627.4 816.1 627.9 816.7 628.4 817.8 628.8 818.3 629.3 818.0 629.7 819.2 630.2 819.7 630.6 820.8 631.0 821.4 631.4 821.3 632.1 822.2 632.7 822.4 633.3 821.8 633.9 823.1 634.3 822.3 634.8 822.5 635.2 822.2 635.6 821.0 636.0 820.9 636.5 819.2 636.9 817.5 637.5 816.2 638.1 814.9 638.8 814.2 639.4 814.6 639.8 813.8 640.0 813.6" stroke="#000000" stroke-width="4.4"/>
<path d="M40.0 650.9L40.1 650.5 40.2 650.8 40.5 650.3 40.8 650.4 41.2 650.7 41.8 650.2 42.4 649.9 43.0 650.6 43.7 650.8 44.5 651.0 45.4 649.1 46.2 648.3 47.2 649.2 48.1 649.5 49.1 649.5 50.2 649.0 51.2 648.1 52.3 647.4 53.3 647.4 54.4 647.3 55.5 646.7 56.5 646.7 57.6 646.7 58.6 647.4 59.6 647.6 60.6 646.6 61.5 645.7 62.4 645.7 63.3 646.5 64.1 646.7 64.8 646.4 65.7 646.2 66.6 646.0 67.4 645.1 68.2 645.2 69.1 644.9 69.9 645.0 70.7 644.9 71.5 644.1 72.2 643.2 73.0 642.9 73.8 642.6 74.6 642.8 75.3 642.5 76.1 642.7 76.9 642.0 77.7 642.4 78.5 643.3 79.3 642.8 80.1 642.8 80.9 642.3 81.7 641.9 82.6 642.4 83.4 641.3 84.3 641.8 85.2 641.3 86.1 641.2 87.0 641.7 87.9 641.0 88.8 640.3 89.7 640.3 90.6 640.3 91.5 641.1 92.4 640.7 93.2 640.7 94.0 641.4 94.8 641.1 95.6 640.1 96.3 639.9 97.0 639.9 97.7 640.6 98.3 641.1 99.1 641.8 99.9 642.2 100.5 642.4 101.1 643.2 101.7 643.9 102.3 644.9 102.8 645.5 103.3 646.7 103.9 647.3 104.5 648.2 105.0 647.8 105.4 649.2 105.9 648.9 106.4 650.1 106.8 650.3 107.3 650.7 107.8 651.8 108.2 652.3 108.7 653.2 109.1 654.8 109.6 656.0 110.1 655.8 110.5 656.3 111.0 656.9 111.5 657.3 112.0 657.9 112.5 658.4 113.1 659.2 113.6 660.0 114.2 660.6 114.7 661.3 115.3 662.1 115.8 662.9 116.4 663.4 117.0 663.9 117.6 664.3 118.2 664.7 118.8 665.0 119.4 665.7 120.1 666.3 120.8 666.7 121.5 667.4 122.2 667.5 122.9 667.9 123.7 668.3 124.4 669.0 125.2 669.2 125.9 669.6 126.6 670.1 127.4 670.1 128.1 670.3 128.9 670.7 129.8 670.8 130.6 671.2 131.4 671.5 132.2 671.5 133.0 671.6 133.8 671.3 134.7 671.2 135.5 671.4 136.3 671.2 137.1 671.1 137.9 670.9 138.7 670.5 139.5 670.5 140.3 670.0 141.1 669.6 141.9 669.0 142.7 668.6 143.4 668.2 144.2 667.8 144.8 667.5 145.4 667.1 145.9 666.6 146.5 665.9 147.0 665.3 147.6 664.7 148.1 664.1 148.7 663.1 149.2 662.4 149.7 661.7 150.3 660.8 150.8 660.2 151.4 659.8 151.9 659.1 152.4 658.2 153.0 657.2 153.5 656.7 154.1 656.0 154.7 655.5 155.2 655.1 155.8 654.6 156.4 653.9 156.9 653.2 157.5 652.7 158.1 652.2 158.6 651.6 159.2 651.0 159.8 650.6 160.4 650.2 161.0 649.6 161.6 648.9 162.2 648.5 162.8 647.8 163.5 646.9 164.1 646.3 164.7 645.7 165.2 645.0 165.8 644.6 166.4 643.9 167.0 643.4 167.6 643.1 168.2 642.5 168.9 642.0 169.5 641.3 170.1 640.7 170.8 640.0 171.4 639.2 172.0 638.8 172.7 638.3 173.3 638.0 174.0 637.3 174.6 636.6 175.3 635.9 175.9 635.3 176.5 635.0 177.2 634.2 177.8 633.7 178.4 633.2 179.0 632.8 179.7 632.3 180.3 631.7 181.0 631.4 181.7 630.8 182.3 630.5 183.0 630.3 183.7 629.5 184.3 628.9 185.0 628.3 185.6 627.8 186.3 627.4 186.9 626.9 187.6 626.8 188.2 626.2 188.9 625.7 189.5 625.3 190.1 625.0 190.8 624.5 191.4 624.4 192.1 623.7 192.7 623.0 193.4 622.1 194.0 621.7 194.6 621.1 195.3 620.6 195.9 620.4 196.5 619.9 197.2 619.2 197.8 618.9 198.4 618.4 199.1 617.8 199.7 617.5 200.4 617.2 201.0 616.5 201.7 616.2 202.4 615.5 203.1 615.1 203.8 614.9 204.4 614.3 205.1 613.9 205.8 613.5 206.5 612.9 207.2 612.6 207.9 612.1 208.6 611.8 209.3 611.5 210.0 611.1 210.8 611.0 211.5 610.5 212.3 610.4 213.1 610.1 213.9 609.9 214.8 609.5 215.4 609.3 216.1 608.9 216.8 608.4 217.5 608.2 218.2 607.7 218.9 607.4 219.7 607.2 220.4 607.0 221.2 606.7 222.0 606.4 222.8 606.4 223.6 606.1 224.4 605.8 225.2 605.8 226.0 605.4 226.8 605.3 227.6 605.3 228.4 604.8 229.3 604.7 230.1 604.4 230.9 604.1 231.7 603.6 232.6 603.3 233.4 603.2 234.2 603.0 235.0 603.1 235.8 602.6 236.6 602.7 237.3 602.3 238.1 602.0 238.9 601.9 239.6 601.6 240.4 601.6 241.3 601.4 242.1 601.4 242.9 601.0 243.7 600.6 244.5 600.3 245.3 600.1 246.0 599.7 246.8 599.7 247.6 599.3 248.4 599.2 249.2 599.0 249.9 598.7 250.7 598.7 251.5 598.2 252.3 597.9 253.0 597.5 253.8 597.4 254.6 597.5 255.4 597.2 256.2 597.0 257.0 597.0 257.8 596.6 258.7 596.5 259.5 596.1 260.2 596.0 261.0 595.7 261.7 595.6 262.5 595.2 263.2 594.8 264.0 594.6 264.7 594.3 265.5 594.1 266.3 594.1 267.0 593.7 267.8 593.4 268.6 593.3 269.4 593.2 270.1 593.2 270.9 593.0 271.7 592.4 272.5 592.0 273.3 591.7 274.1 591.7 274.9 591.5 275.7 591.2 276.4 591.1 277.2 591.0 278.0 590.8 278.8 590.4 279.6 590.4 280.4 590.1 281.2 590.1 282.0 589.7 282.7 589.4 283.5 589.4 284.3 589.2 285.1 589.0 285.9 588.5 286.8 588.4 287.6 588.3 288.5 588.2 289.4 588.0 290.3 587.8 291.2 587.6 292.1 587.6 293.0 587.5 293.9 587.1 294.8 587.0 295.7 587.0 296.6 587.2 297.5 586.9 298.4 586.7 299.2 586.6 300.1 586.2 300.9 585.7 301.8 585.8 302.6 585.7 303.4 585.4 304.1 585.2 304.8 585.4 305.6 585.2 306.2 584.9 306.9 584.9 307.5 584.7 308.1 584.9 308.6 584.5 309.1 584.6 310.3 584.2 311.2 583.9 312.1 584.1 312.9 584.0 313.6 584.4 314.0 584.9 314.4 585.3 314.7 586.1 315.0 587.4 315.2 588.3 315.5 589.5 315.7 590.6 315.9 591.6 316.1 592.6 316.3 593.4 316.5 594.0 316.7 594.3 317.0 594.7 317.3 594.4 317.5 594.0 317.7 593.5 318.0 592.4 318.2 591.6 318.4 590.3 318.7 589.5 319.0 588.5 319.4 587.3 319.8 586.6 320.3 586.0 320.9 585.4 321.5 585.0 322.3 584.7 323.0 584.4 323.8 584.4 324.7 584.4 325.5 584.3 326.4 584.3 327.3 584.1 328.1 584.2 329.0 584.2 329.8 584.1 330.6 583.9 331.4 583.5 332.2 583.0 333.1 583.1 333.9 582.5 334.7 582.3 335.6 583.3 336.5 583.2 337.3 583.2 338.2 582.5 339.1 582.5 340.0 581.9 340.7 581.6 341.5 581.1 342.2 581.5 342.9 581.5 343.7 581.2 344.4 580.9 345.2 580.4 346.0 579.8 346.7 580.1 347.5 580.2 348.3 580.0 349.1 580.1 349.9 580.2 350.7 579.9 351.5 580.0 352.3 579.6 353.2 579.0 354.0 578.9 354.9 578.7 355.6 578.2 356.3 577.7 357.1 577.6 357.8 577.5 358.6 578.1 359.3 577.8 360.1 577.0 360.9 577.3 361.7 577.7 362.5 577.7 363.3 577.4 364.1 577.4 364.9 577.1 365.7 576.9 366.5 577.2 367.3 576.9 368.1 577.3 369.0 576.6 369.8 576.4 370.6 576.5 371.4 576.1 372.3 575.8 373.1 576.1 373.9 576.3 374.7 576.2 375.6 576.8 376.4 576.8 377.2 576.2 378.0 576.0 378.8 576.2 379.6 576.2 380.4 576.1 381.2 575.5 382.0 575.9 382.9 575.8 383.7 575.6 384.6 575.2 385.4 574.9 386.2 574.9 387.1 574.2 387.9 574.2 388.8 574.5 389.6 574.3 390.5 574.5 391.3 573.9 392.1 573.6 393.0 573.6 393.8 573.4 394.6 573.5 395.4 573.3 396.2 573.4 396.9 573.5 397.7 573.3 398.5 573.3 399.2 573.0 399.9 573.0 400.6 573.1 401.3 572.9 402.0 573.6 403.0 573.3 403.9 573.7 404.8 574.2 405.8 573.2 406.7 572.8 407.5 573.2 408.4 573.4 409.2 574.0 410.1 573.5 410.9 574.1 411.6 574.1 412.4 573.9 413.1 573.5 413.8 573.2 414.4 573.1 415.3 572.1 416.1 571.4 416.8 570.8 417.5 570.2 418.1 569.7 418.7 569.2 419.3 568.7 419.9 567.6 420.5 566.9 421.1 566.0 421.6 565.2 422.1 564.2 422.6 563.5 423.1 563.3 423.5 563.6 423.8 564.2 424.2 565.2 424.5 565.9 424.9 566.8 425.2 568.0 425.5 569.1 425.8 570.1 426.1 571.3 426.4 571.8 426.6 573.0 426.8 573.8 427.0 574.4 427.2 575.4 427.4 576.6 427.5 577.2 427.7 578.2 427.9 578.8 428.1 579.7 428.3 581.0 428.5 581.2 428.7 582.1 429.0 583.2 429.3 583.6 429.8 584.2 430.3 585.5 430.9 586.1 431.5 587.0 432.1 587.4 432.7 587.8 433.3 588.0 433.8 588.0 434.3 587.7 434.7 587.3 435.1 587.2 435.4 586.1 435.8 584.8 436.1 584.4 436.5 583.0 436.8 581.9 437.0 581.6 437.3 580.5 437.5 579.8 437.7 578.8 437.9 577.5 438.1 576.6 438.3 575.2 438.5 574.3 438.7 573.3 438.9 572.0 439.1 571.4 439.3 570.5 439.6 570.3 439.8 570.4 440.1 570.3 440.4 570.8 440.7 571.6 441.0 572.0 441.3 573.7 441.7 574.6 442.0 575.3 442.3 576.8 442.7 577.5 443.0 578.3 443.3 579.7 443.6 580.2 443.9 581.2 444.2 581.5 444.5 582.8 444.8 583.0 445.1 583.9 445.4 584.8 445.7 585.3 446.0 586.5 446.3 587.0 446.6 587.9 446.9 589.0 447.2 589.6 447.5 590.7 447.7 591.3 448.0 592.3 448.2 592.9 448.4 594.0 448.7 594.9 448.9 595.2 449.1 596.5 449.3 597.0 449.6 598.0 449.8 598.7 450.1 599.5 450.3 599.6 450.6 600.4 450.9 601.3 451.2 602.0 451.7 602.6 452.3 602.9 452.9 604.0 453.5 604.3 454.0 605.2 454.6 605.9 455.0 605.3 455.4 605.4 455.8 604.4 456.2 603.0 456.6 601.7 456.9 600.7 457.3 599.8 457.7 598.8 458.2 597.9 458.6 597.7 459.3 598.0 460.1 598.8 460.9 599.0 461.6 600.0 462.0 600.3 462.3 601.0 462.6 601.3 462.9 601.7 463.2 602.8 463.5 603.2 463.8 604.0 464.0 604.9 464.3 605.8 464.5 606.1 464.8 607.2 465.0 607.9 465.3 609.1 465.5 610.0 465.7 610.8 465.9 611.0 466.1 611.9 466.3 613.2 466.5 614.0 466.7 614.7 466.9 615.7 467.1 616.5 467.3 617.9 467.5 618.5 467.7 619.8 467.8 620.6 468.0 621.0 468.2 622.0 468.4 622.7 468.6 623.9 468.8 624.3 469.0 624.4 469.4 625.5 469.8 626.5 470.2 627.4 470.6 628.0 471.0 628.0 471.2 627.8 471.4 627.2 471.6 627.0 471.8 626.1 471.9 625.0 472.1 624.4 472.3 623.8 472.4 622.0 472.6 621.0 472.8 620.3 472.9 618.9 473.1 617.9 473.3 617.0 473.5 615.9 473.7 615.5 473.8 614.7 474.0 614.3 474.2 613.5 474.3 612.1 474.5 611.7 474.7 611.0 474.9 610.3 475.0 609.4 475.2 608.5 475.4 607.7 475.6 606.7 475.8 605.9 476.0 605.4 476.2 604.7 476.4 603.9 476.6 602.9 476.8 601.8 477.0 601.4 477.2 600.5 477.5 599.6 477.7 599.0 477.9 598.1 478.2 597.6 478.4 596.8 478.6 595.9 478.9 595.5 479.1 594.8 479.4 594.5 479.6 593.3 479.9 592.4 480.2 591.5 480.4 590.6 480.7 589.9 481.0 588.9 481.2 588.0 481.5 587.8 481.8 586.8 482.1 586.0 482.4 585.2 482.7 584.2 483.0 583.3 483.3 582.4 483.6 581.9 483.9 581.3 484.5 580.8 485.0 580.3 485.6 580.3 486.2 579.5 486.8 579.4 487.4 578.7 488.0 577.9 488.7 577.3 489.3 576.9 490.0 576.4 490.6 575.2 491.2 574.8 491.9 573.7 492.6 573.3 493.3 572.3 494.1 572.3 494.9 572.4 495.6 571.6 496.4 571.1 497.2 570.7 498.1 570.7 498.9 570.6 499.8 571.1 500.7 571.5 501.6 572.2 502.4 572.0 503.3 572.2 504.1 572.4 504.9 572.2 505.8 571.9 506.7 572.6 507.5 573.2 508.4 573.2 509.2 572.8 510.0 573.2 510.8 573.4 511.5 573.7 512.3 574.1 513.0 574.6 513.7 575.3 514.4 576.0 515.0 576.3 515.7 576.8 516.3 576.5 516.9 577.0 517.5 577.9 518.0 578.5 518.5 579.0 519.0 580.0 519.5 580.7 519.9 581.5 520.3 582.8 520.6 583.5 521.0 584.7 521.3 585.0 521.7 585.3 522.1 585.2 522.4 584.4 522.7 583.7 523.0 582.4 523.4 582.0 523.7 580.7 524.2 580.2 524.7 579.0 525.2 579.0 525.8 578.7 526.4 577.8 527.1 577.0 527.8 576.5 528.5 576.2 529.3 576.4 530.1 575.6 530.9 575.7 531.6 575.0 532.3 574.7 533.1 574.8 533.9 575.2 534.7 575.4 535.5 574.9 536.4 574.1 537.2 574.2 538.1 573.8 538.9 574.0 539.7 573.9 540.6 573.9 541.3 573.4 542.1 573.7 543.0 573.8 543.8 573.0 544.7 572.1 545.5 571.6 546.3 571.7 547.1 571.1 547.9 570.8 548.7 570.6 549.4 570.3 550.1 570.2 550.8 569.9 551.5 570.7 552.2 570.7 552.7 571.7 553.3 572.0 553.9 572.7 554.4 573.4 555.0 573.7 555.7 574.0 556.4 573.7 557.3 573.3 558.1 573.8 559.0 573.0 559.8 572.2 560.6 571.6 561.3 571.7 561.9 571.8 562.7 571.5 563.3 572.0 563.8 573.7 564.0 574.1 564.2 575.6 564.3 576.3 564.4 577.6 564.5 578.6 564.6 580.1 564.6 580.9 564.7 581.7 564.7 582.9 564.8 582.9 564.9 583.5 565.0 583.0 565.1 582.9 565.2 582.1 565.3 581.5 565.5 579.9 565.6 579.2 565.7 577.9 565.8 577.1 565.9 576.1 566.1 575.0 566.2 574.0 566.4 572.7 566.9 571.6 567.4 571.1 568.1 570.6 569.0 570.6 569.9 570.9 570.9 570.9 571.8 570.9 572.4 571.5 573.1 571.0 573.8 571.5 574.5 571.5 575.2 572.3 575.9 572.6 576.7 572.6 577.4 573.6 578.2 574.3 578.9 574.5 579.7 575.1 580.4 575.8 581.1 576.7 581.8 576.9 582.4 577.9 583.0 578.4 583.6 578.6 584.2 578.9 584.8 579.4 585.4 579.4 586.0 580.7 586.6 581.2 587.1 582.3 587.7 582.9 588.3 582.9 588.9 583.9 589.4 584.4 590.0 584.5 590.6 585.0 591.1 585.6 591.7 586.8 592.3 586.8 592.9 588.3 593.5 588.6 594.2 589.6 594.8 589.6 595.4 590.0 596.0 590.8 596.6 590.9 597.2 591.7 597.8 592.7 598.4 593.2 598.9 593.9 599.4 594.7 599.9 594.8 600.4 595.5 600.8 596.1 601.2 596.8 601.5 597.5 601.9 598.2 602.2 598.9 602.5 599.6 602.8 600.3 603.0 601.1 603.3 601.8 603.6 602.6 603.8 603.4 604.0 604.2 604.3 605.0 604.5 605.8 604.7 606.6 604.9 607.5 605.1 608.3 605.3 609.2 605.5 609.9 605.6 610.6 605.7 611.4 605.9 612.2 606.0 613.0 606.1 613.8 606.3 614.6 606.4 615.5 606.5 616.3 606.6 617.2 606.7 618.0 606.8 618.9 606.9 619.8 606.9 620.6 607.0 621.5 607.1 622.4 607.2 623.2 607.2 624.1 607.3 624.9 607.4 625.7 607.4 626.5 607.5 627.3 607.5 628.1 607.6 628.8 607.7 629.5 607.7 630.2 607.8 630.9 607.8 631.5 607.9 632.5 607.9 633.4 608.0 634.2 608.0 635.0 608.0 635.7 608.1 636.5 608.1 637.2 608.1 638.1 608.1 639.0 608.2 640.0 608.2 640.6 608.3 641.2 608.3 641.9 608.3 642.5 608.4 643.2 608.4 644.0 608.5 644.7 608.5 645.4 608.5 646.2 608.6 647.0 608.6 647.8 608.7 648.6 608.7 649.4 608.8 650.2 608.8 651.0 608.9 651.9 608.9 652.7 609.0 653.6 609.0 654.4 609.1 655.3 609.2 656.2 609.2 657.0 609.3 657.9 609.3 658.8 609.4 659.7 609.5 660.5 609.5 661.4 609.6 662.3 609.7 663.1 609.7 664.0 609.8 664.8 609.9 665.6 609.9 666.3 610.0 667.1 610.1 667.9 610.1 668.7 610.2 669.5 610.3 670.3 610.3 671.0 610.4 671.8 610.5 672.6 610.5 673.4 610.6 674.2 610.7 675.0 610.8 675.8 610.8 676.6 610.9 677.4 611.0 678.3 611.1 679.1 611.1 679.9 611.2 680.7 611.3 681.5 611.4 682.3 611.5 683.1 611.6 683.9 611.7 684.8 611.7 685.6 611.8 686.4 611.9 687.2 612.0 688.0 612.1 688.9 612.2 689.7 612.3 690.5 612.4 691.3 612.5 692.1 612.6 693.0 612.7 693.8 612.8 694.6 612.9 695.4 613.0 696.2 613.1 697.0 613.2 697.8 613.3 698.6 613.4 699.4 613.5 700.3 613.7 701.1 613.8 701.9 613.9 702.8 614.0 703.6 614.1 704.4 614.2 705.3 614.3 706.1 614.5 706.9 614.6 707.8 614.7 708.6 614.8 709.5 614.9 710.3 615.1 711.1 615.2 712.0 615.3 712.8 615.5 713.6 615.6 714.4 615.7 715.3 615.8 716.1 616.0 716.9 616.1 717.7 616.2 718.5 616.4 719.3 616.5 720.1 616.7 720.9 616.8 721.6 616.9 722.4 617.1 723.1 617.2 723.9 617.4 724.6 617.5 725.4 617.7 726.1 617.8 726.8 618.0 727.7 618.2 728.6 618.4 729.4 618.6 730.3 618.8 731.2 619.0 732.0 619.2 732.8 619.4 733.6 619.6 734.5 619.8 735.3 620.0 736.1 620.2 736.9 620.4 737.6 620.6 738.4 620.8 739.2 621.0 740.0 621.2 740.7 621.5 741.5 621.7 742.2 621.9 743.0 622.1 743.7 622.3 744.5 622.6 745.2 622.8 746.0 623.0 746.7 623.3 747.5 623.5 748.4 623.8 749.2 624.1 750.1 624.3 750.9 624.6 751.8 624.9 752.6 625.2 753.4 625.5 754.3 625.7 755.1 626.0 755.9 626.3 756.6 626.6 757.4 626.9 758.2 627.1 758.9 627.4 759.6 627.7 760.3 627.9 761.0 628.2 761.6 628.6 762.6 629.0 763.6 629.4 764.6 629.7 765.7 630.1 766.6 630.5 767.4 630.8 768.0 631.2 768.4 631.5 768.5 631.7 768.4 632.0 768.1 632.2 767.7 632.4 767.1 632.6 766.4 632.8 765.6 633.0 764.7 633.1 763.7 633.3 762.7 633.5 761.7 633.7 760.7 633.8 759.6 634.0 758.6 634.1 757.6 634.3 756.6 634.4 755.9 634.5 755.2 634.6 754.5 634.7 753.8 634.8 753.0 634.9 752.2 635.0 751.4 635.1 750.6 635.2 749.8 635.2 749.0 635.3 748.2 635.4 747.4 635.5 746.5 635.6 745.7 635.6 744.8 635.7 744.0 635.8 743.1 635.8 742.3 635.9 741.5 636.0 740.6 636.1 739.8 636.1 739.0 636.2 738.2 636.3 737.4 636.4 736.6 636.4 735.8 636.5 735.0 636.6 734.3 636.7 733.4 636.8 732.5 636.9 731.5 637.0 730.6 637.0 729.6 637.1 728.7 637.2 727.7 637.3 726.7 637.3 725.8 637.4 724.9 637.5 724.0 637.6 723.1 637.7 722.3 637.8 721.5 637.9 720.8 638.0 720.1 638.1 719.5 638.3 718.9 638.4 718.4 638.6 718.0 639.5 716.9 640.0 716.5" stroke="#ff0000" stroke-width="4.4"/>
<path d="M40.0 607.9L40.1 607.9 40.2 608.1 40.5 607.8 40.8 607.9 41.2 608.8 41.8 608.6 42.4 608.4 43.0 607.7 43.7 607.2 44.5 607.2 45.4 606.9 46.2 606.2 47.2 606.1 48.1 606.4 49.1 607.4 50.2 607.4 51.2 607.3 52.3 605.7 53.3 605.7 54.4 606.8 55.5 606.8 56.5 605.9 57.6 606.4 58.6 606.1 59.6 606.6 60.6 605.5 61.5 605.1 62.4 605.9 63.3 605.9 64.1 605.6 64.8 605.7 65.7 605.1 66.6 605.4 67.4 605.3 68.2 604.7 69.1 605.1 69.9 605.5 70.7 604.9 71.5 604.4 72.2 604.4 73.0 603.8 73.8 602.8 74.6 602.8 75.4 602.2 76.1 602.1 76.9 601.8 77.7 602.5 78.5 603.3 79.3 603.2 80.1 602.8 80.9 602.7 81.7 602.5 82.6 601.6 83.4 601.3 84.3 601.6 85.2 602.9 86.1 602.5 87.0 602.3 87.9 602.0 88.9 601.8 89.8 602.5 90.7 602.8 91.5 602.7 92.4 602.7 93.2 602.8 94.1 601.7 94.9 602.2 95.6 601.6 96.4 601.8 97.0 602.5 97.7 602.6 98.3 604.0 99.0 604.2 99.7 604.1 100.3 604.9 100.8 604.8 101.3 605.2 101.8 606.1 102.2 607.1 102.7 607.8 103.1 609.0 103.5 610.2 104.0 610.8 104.5 610.8 104.9 611.2 105.3 611.5 105.7 611.8 106.1 612.6 106.5 613.4 106.9 615.1 107.4 615.9 107.8 616.8 108.2 617.7 108.6 618.1 109.0 618.5 109.4 619.1 109.8 620.2 110.2 620.5 110.7 621.6 111.1 622.3 111.5 622.8 112.0 623.7 112.4 624.4 112.8 625.1 113.3 625.7 113.7 626.5 114.1 627.0 114.6 627.8 115.0 628.3 115.4 629.0 115.9 629.6 116.3 630.4 116.8 631.1 117.2 631.9 117.7 632.3 118.2 633.2 118.6 633.6 119.1 634.5 119.5 634.9 120.0 635.5 120.5 636.3 121.0 636.9 121.4 637.7 121.9 638.0 122.5 639.1 123.1 639.6 123.7 640.5 124.3 640.8 124.9 641.6 125.6 642.3 126.2 642.6 126.8 643.0 127.4 643.4 128.1 644.0 128.7 644.7 129.3 645.3 130.0 646.0 130.6 646.4 131.4 646.4 132.2 646.8 133.1 647.3 133.9 647.7 134.7 648.0 135.5 648.1 136.4 648.1 137.2 647.9 138.0 648.0 138.8 648.0 139.5 647.8 140.3 647.3 141.1 647.2 141.8 646.6 142.6 646.4 143.3 646.0 144.0 645.4 144.8 645.0 145.5 644.1 146.0 644.0 146.6 643.5 147.1 642.8 147.6 642.4 148.1 641.7 148.6 641.2 149.1 640.5 149.6 639.6 150.1 639.2 150.5 638.3 151.0 637.7 151.5 637.1 152.0 636.4 152.5 635.8 153.0 635.2 153.6 634.3 154.1 633.8 154.6 633.1 155.1 632.2 155.7 631.6 156.2 630.7 156.7 630.0 157.3 629.4 157.8 629.0 158.3 628.4 158.9 627.8 159.4 627.2 160.0 626.3 160.5 625.6 161.1 625.1 161.7 624.6 162.3 624.1 162.9 623.7 163.5 623.0 164.1 622.3 164.6 622.1 165.2 621.4 165.7 621.0 166.3 620.1 166.9 619.3 167.5 618.6 168.1 618.2 168.7 617.9 169.3 617.5 169.9 616.8 170.5 616.2 171.2 615.5 171.8 614.9 172.4 614.3 173.0 613.7 173.7 613.0 174.3 612.5 174.9 612.1 175.5 612.0 176.1 611.2 176.7 610.6 177.3 610.0 177.9 609.4 178.4 608.7 179.0 608.4 179.7 607.7 180.3 606.9 180.9 606.4 181.5 606.1 182.1 605.6 182.7 604.9 183.3 604.3 183.9 603.5 184.5 603.1 185.1 602.6 185.7 602.1 186.3 601.5 186.9 600.9 187.5 600.3 188.1 599.9 188.7 599.2 189.4 598.6 190.0 598.1 190.7 597.8 191.3 597.4 192.0 596.6 192.7 596.2 193.3 595.9 194.0 595.2 194.7 594.5 195.4 594.1 196.1 593.7 196.8 592.8 197.5 592.4 198.2 591.9 198.9 591.5 199.6 591.0 200.3 590.5 201.0 590.1 201.7 589.8 202.4 589.5 203.2 588.9 203.9 588.8 204.7 588.5 205.5 587.9 206.4 587.4 207.2 587.0 208.0 586.6 208.8 586.4 209.6 585.9 210.4 585.4 211.2 585.2 212.0 584.7 212.7 584.7 213.4 584.6 214.1 584.6 214.8 584.3 215.7 584.6 216.5 584.4 217.3 584.6 218.1 584.9 218.8 585.3 219.5 585.3 220.3 585.7 221.0 585.8 221.7 585.3 222.4 585.1 223.1 584.5 223.8 583.8 224.4 583.2 225.1 582.6 225.8 582.1 226.5 581.4 227.2 580.9 228.1 580.6 228.9 580.5 229.8 580.3 230.7 580.0 231.6 580.1 232.5 580.2 233.4 579.9 234.1 579.3 234.7 578.9 235.3 578.3 236.0 578.1 236.6 577.9 237.2 577.5 238.0 576.9 238.7 576.6 239.6 575.9 240.2 575.7 240.7 575.6 241.3 575.3 242.0 575.3 242.7 575.0 243.3 574.5 244.0 574.0 244.8 573.8 245.5 573.9 246.3 574.0 247.1 573.5 247.9 573.3 248.7 573.0 249.5 572.7 250.3 572.6 251.1 572.3 252.0 572.1 252.8 571.6 253.7 571.5 254.5 571.2 255.3 570.6 256.2 570.8 257.0 570.8 257.9 570.6 258.7 570.1 259.5 569.9 260.3 569.6 261.0 569.3 261.8 569.0 262.6 568.8 263.3 568.6 264.1 568.8 264.9 568.5 265.7 568.1 266.5 568.0 267.3 567.7 268.1 567.6 268.9 567.3 269.7 566.8 270.5 566.5 271.3 566.4 272.1 566.2 272.9 566.1 273.7 566.1 274.6 565.8 275.4 565.8 276.2 565.4 277.0 565.1 277.8 565.2 278.6 564.9 279.4 564.4 280.3 564.3 281.1 564.4 281.9 564.1 282.7 564.2 283.5 563.9 284.3 564.0 285.1 563.8 285.9 563.4 286.8 563.2 287.6 563.0 288.5 562.9 289.4 562.6 290.3 562.5 291.2 562.5 292.1 562.2 293.0 562.0 293.9 561.7 294.8 561.7 295.7 561.5 296.6 561.2 297.5 561.2 298.4 561.1 299.2 561.2 300.1 560.9 300.9 560.6 301.8 560.4 302.6 560.5 303.4 560.8 304.1 560.7 304.8 560.3 305.6 560.3 306.2 560.2 306.9 560.2 307.5 560.0 308.1 559.9 308.6 559.7 309.1 559.5 310.3 559.2 311.2 558.7 312.1 558.5 312.9 558.8 313.6 559.1 314.0 559.3 314.4 560.2 314.7 560.9 315.0 562.0 315.3 562.8 315.5 564.1 315.7 564.9 316.0 566.1 316.2 566.7 316.4 567.5 316.7 567.8 317.0 568.3 317.4 568.1 317.7 567.7 318.0 566.9 318.4 566.1 318.8 565.3 319.2 564.4 319.7 563.3 320.3 562.5 320.9 561.9 321.5 561.7 322.3 561.2 323.0 560.9 323.8 560.7 324.7 560.2 325.5 560.2 326.4 560.0 327.3 559.4 328.1 559.3 329.0 558.9 329.8 558.8 330.6 558.5 331.4 558.5 332.2 558.8 333.0 558.5 333.9 558.9 334.7 558.4 335.6 558.5 336.4 558.2 337.3 557.5 338.2 557.1 339.1 557.1 340.0 556.7 340.8 557.2 341.5 557.1 342.3 557.4 343.1 557.5 343.9 557.0 344.7 557.1 345.5 556.9 346.3 557.0 347.1 556.6 347.9 556.7 348.8 557.0 349.6 556.7 350.5 556.1 351.3 555.8 352.2 555.5 353.1 555.3 354.0 554.9 354.9 555.0 355.6 555.2 356.4 555.1 357.1 555.0 357.8 555.1 358.6 555.3 359.4 555.2 360.1 554.7 360.9 554.2 361.7 554.0 362.5 554.6 363.3 554.7 364.1 554.3 364.9 554.2 365.7 554.1 366.5 553.5 367.3 553.2 368.1 553.2 369.0 553.6 369.8 553.5 370.6 553.0 371.4 553.5 372.3 553.6 373.1 553.0 373.9 552.9 374.7 552.5 375.6 552.4 376.4 551.9 377.2 551.9 378.0 552.2 378.8 552.5 379.6 551.8 380.4 550.8 381.2 551.3 382.0 550.9 382.8 551.2 383.7 551.5 384.5 551.6 385.3 551.5 386.2 551.1 387.0 551.0 387.8 551.1 388.7 550.2 389.5 550.0 390.3 550.2 391.2 550.0 392.0 549.3 392.8 550.1 393.6 549.9 394.4 550.1 395.2 549.6 396.0 550.2 396.8 550.0 397.6 549.3 398.3 549.3 399.1 549.3 399.8 549.6 400.6 549.4 401.3 549.3 402.0 548.5 402.9 548.8 403.9 548.5 404.8 548.3 405.8 548.6 406.7 547.8 407.6 547.8 408.6 547.7 409.5 547.2 410.3 546.9 411.2 547.1 412.0 546.7 412.8 546.6 413.6 546.4 414.4 546.5 415.1 546.7 415.7 546.6 416.3 546.5 416.9 546.0 417.8 545.6 418.7 545.7 419.4 544.9 420.0 544.3 420.6 543.0 421.0 542.9 421.4 541.9 421.8 540.9 422.1 539.2 422.4 538.8 422.7 537.3 423.0 537.0 423.3 536.5 423.6 536.7 423.8 536.9 424.1 537.7 424.3 537.7 424.5 538.9 424.7 539.6 425.0 540.3 425.2 541.6 425.4 542.1 425.6 543.4 425.8 544.2 426.0 545.1 426.2 546.3 426.4 547.0 426.6 547.3 426.8 548.0 426.9 549.0 427.1 549.7 427.3 551.1 427.4 551.5 427.6 552.7 427.7 553.6 427.9 554.4 428.1 554.8 428.3 555.5 428.4 556.5 428.6 557.1 428.8 558.2 429.1 559.0 429.3 559.8 429.6 560.2 430.0 561.4 430.3 562.2 430.7 563.1 431.1 563.6 431.5 564.9 431.9 565.5 432.2 566.4 432.6 567.2 433.0 567.7 433.4 567.6 433.9 567.1 434.3 566.3 434.7 565.1 435.1 563.5 435.5 562.4 435.9 561.8 436.3 560.2 436.5 559.8 436.7 558.7 436.9 558.0 437.1 557.2 437.2 555.9 437.4 555.1 437.5 553.8 437.7 553.1 437.8 551.5 437.9 550.9 438.1 550.0 438.2 548.6 438.4 547.7 438.5 547.4 438.7 547.1 438.9 546.5 439.1 546.1 439.3 545.8 439.7 546.1 440.0 546.9 440.5 547.6 440.9 548.1 441.3 548.9 441.7 550.2 442.2 551.1 442.6 551.6 443.0 552.5 443.5 553.0 443.9 553.8 444.4 554.4 444.9 555.6 445.3 556.6 445.8 557.3 446.3 558.4 446.7 559.0 447.3 559.3 447.9 560.5 448.5 560.5 449.1 561.2 449.7 561.3 450.1 561.0 450.5 560.7 450.8 559.8 451.2 558.8 451.5 558.2 451.9 557.3 452.4 556.8 452.9 556.6 453.6 556.0 454.4 556.4 455.3 556.7 456.2 556.9 457.1 556.7 457.9 556.6 458.7 556.8 459.6 555.9 460.4 556.0 461.2 556.3 462.0 555.6 462.8 555.2 463.6 554.6 464.4 553.9 465.2 553.5 465.9 553.4 466.6 553.0 467.2 553.3 467.7 553.1 468.2 553.6 468.7 554.9 469.2 555.3 469.8 556.6 470.3 557.6 470.9 558.0 471.5 559.3 472.1 559.9 472.7 560.2 473.3 560.8 474.0 560.7 474.8 560.4 475.6 560.1 476.4 560.1 477.3 559.5 478.1 559.0 479.0 558.3 479.7 557.9 480.4 558.0 481.1 557.2 481.7 556.7 482.4 556.6 483.1 555.5 483.8 555.1 484.5 554.5 485.2 553.9 485.9 553.1 486.5 552.6 487.2 551.5 487.8 550.6 488.5 550.2 489.1 549.6 489.8 549.0 490.5 549.2 491.2 548.5 492.1 548.3 492.9 548.0 493.8 547.1 494.7 546.3 495.6 546.7 496.5 546.9 497.4 546.9 498.1 547.4 498.8 547.6 499.6 548.1 500.3 548.2 501.0 548.6 501.7 549.1 502.4 549.7 503.0 550.3 503.6 550.9 504.0 551.4 504.4 552.0 504.8 552.6 505.2 553.2 505.6 553.9 505.9 554.6 506.2 555.4 506.5 556.1 506.9 556.9 507.1 557.7 507.4 558.5 507.7 559.4 508.0 560.2 508.3 561.1 508.6 562.0 508.8 562.7 509.0 563.3 509.2 564.0 509.4 564.8 509.6 565.5 509.8 566.2 510.0 567.0 510.2 567.8 510.3 568.5 510.5 569.3 510.7 570.1 510.9 571.0 511.0 571.8 511.2 572.6 511.4 573.4 511.5 574.3 511.7 575.1 511.9 576.0 512.0 576.8 512.2 577.7 512.3 578.5 512.5 579.4 512.7 580.2 512.8 581.1 513.0 581.9 513.2 582.7 513.3 583.6 513.5 584.4 513.7 585.2 513.8 586.0 514.0 586.8 514.2 587.5 514.3 588.3 514.5 589.1 514.6 589.9 514.8 590.7 515.0 591.5 515.1 592.4 515.3 593.2 515.4 594.0 515.6 594.8 515.8 595.6 515.9 596.4 516.1 597.2 516.2 598.0 516.4 598.8 516.6 599.6 516.7 600.4 516.9 601.3 517.0 602.1 517.2 602.9 517.4 603.7 517.5 604.5 517.7 605.3 517.8 606.1 518.0 606.8 518.2 607.6 518.3 608.4 518.5 609.2 518.7 610.0 518.9 610.8 519.0 611.7 519.2 612.5 519.4 613.3 519.6 614.2 519.7 615.0 519.9 615.8 520.1 616.7 520.3 617.5 520.5 618.3 520.6 619.1 520.8 620.0 521.0 620.8 521.2 621.6 521.4 622.4 521.5 623.2 521.7 624.0 521.9 624.8 522.1 625.6 522.3 626.3 522.4 627.1 522.6 627.9 522.8 628.6 523.0 629.4 523.2 630.1 523.3 630.8 523.5 631.5 523.7 632.4 523.9 633.3 524.2 634.2 524.4 635.2 524.6 636.1 524.8 637.0 525.0 637.8 525.2 638.7 525.4 639.6 525.6 640.4 525.8 641.2 526.0 641.9 526.3 642.7 526.5 643.4 526.7 644.0 527.0 644.6 527.2 645.2 527.7 646.2 528.2 647.2 528.7 648.1 529.2 648.7 529.7 648.9 530.1 648.7 530.5 648.3 531.0 647.6 531.4 646.8 531.8 645.9 532.2 644.9 532.6 643.9 532.8 643.3 533.0 642.7 533.2 642.1 533.3 641.4 533.5 640.8 533.7 640.0 533.8 639.3 534.0 638.5 534.1 637.7 534.3 636.9 534.4 636.1 534.5 635.2 534.7 634.4 534.8 633.5 534.9 632.6 535.1 631.8 535.2 630.9 535.3 630.0 535.5 629.2 535.6 628.3 535.8 627.4 535.9 626.6 536.0 625.8 536.2 625.1 536.3 624.3 536.4 623.5 536.6 622.7 536.7 621.9 536.8 621.1 536.9 620.3 537.1 619.5 537.2 618.7 537.3 617.9 537.5 617.1 537.6 616.2 537.7 615.4 537.9 614.6 538.0 613.8 538.1 612.9 538.2 612.1 538.4 611.3 538.5 610.5 538.6 609.7 538.8 608.9 538.9 608.1 539.0 607.3 539.2 606.5 539.3 605.7 539.5 605.0 539.6 604.2 539.8 603.4 539.9 602.5 540.1 601.7 540.2 600.8 540.4 600.0 540.6 599.2 540.7 598.4 540.9 597.5 541.0 596.7 541.2 595.9 541.4 595.1 541.5 594.3 541.7 593.5 541.9 592.7 542.0 592.0 542.2 591.2 542.4 590.4 542.6 589.7 542.7 588.9 542.9 588.2 543.1 587.5 543.3 586.8 543.5 585.9 543.8 585.0 544.0 584.2 544.3 583.3 544.5 582.4 544.8 581.6 545.0 580.8 545.3 580.0 545.5 579.2 545.8 578.4 546.1 577.7 546.4 577.0 546.7 576.3 547.0 575.7 547.5 574.8 547.9 574.0 548.4 573.2 548.9 572.5 549.5 571.9 550.1 571.3 550.8 570.7 551.4 570.3 552.1 570.0 552.8 569.7 553.6 569.5 554.3 569.3 555.2 569.1 556.0 568.9 556.8 568.8 557.7 568.6 558.6 568.4 559.4 568.2 560.2 568.0 560.9 567.7 561.8 567.5 562.6 567.2 563.4 566.9 564.3 566.6 565.1 566.3 566.0 566.1 566.8 565.9 567.6 565.7 568.4 565.6 569.2 565.6 569.9 565.7 570.6 565.8 571.3 566.0 571.9 566.4 572.6 566.8 573.2 567.3 573.7 567.8 574.3 568.4 574.9 569.0 575.4 569.7 575.9 570.4 576.5 571.1 577.0 571.8 577.5 572.5 578.1 573.2 578.5 573.8 579.0 574.4 579.4 575.0 579.9 575.6 580.3 576.2 580.8 576.9 581.2 577.6 581.7 578.2 582.1 578.9 582.5 579.6 583.0 580.3 583.4 581.0 583.8 581.8 584.2 582.5 584.7 583.2 585.1 583.9 585.5 584.7 585.9 585.4 586.3 586.1 586.7 586.8 587.1 587.5 587.5 588.2 587.9 589.0 588.3 589.7 588.7 590.4 589.1 591.1 589.5 591.8 589.9 592.6 590.3 593.3 590.6 594.0 591.0 594.7 591.4 595.5 591.8 596.2 592.1 597.0 592.5 597.8 592.8 598.5 593.2 599.3 593.5 600.1 593.9 600.9 594.2 601.7 594.5 602.4 594.8 603.1 595.0 603.8 595.3 604.6 595.6 605.3 595.8 606.0 596.1 606.8 596.3 607.5 596.6 608.3 596.8 609.0 597.1 609.8 597.3 610.6 597.5 611.4 597.8 612.1 598.0 612.9 598.2 613.7 598.5 614.5 598.7 615.3 598.9 616.1 599.1 616.8 599.3 617.6 599.6 618.4 599.8 619.2 600.0 620.0 600.2 620.8 600.4 621.6 600.6 622.4 600.8 623.1 601.0 623.9 601.2 624.7 601.4 625.5 601.6 626.2 601.8 627.0 602.0 627.8 602.1 628.6 602.3 629.4 602.5 630.2 602.7 631.0 602.9 631.7 603.0 632.5 603.2 633.3 603.4 634.1 603.5 634.9 603.7 635.7 603.9 636.5 604.0 637.4 604.2 638.2 604.4 639.0 604.5 639.8 604.7 640.6 604.8 641.4 605.0 642.2 605.1 643.1 605.3 643.9 605.4 644.7 605.6 645.5 605.7 646.2 605.9 647.0 606.0 647.8 606.1 648.6 606.3 649.4 606.4 650.2 606.5 650.9 606.6 651.7 606.8 652.5 606.9 653.3 607.0 654.1 607.1 654.9 607.3 655.7 607.4 656.5 607.5 657.3 607.6 658.2 607.7 659.0 607.8 659.8 608.0 660.6 608.1 661.4 608.2 662.2 608.3 663.1 608.4 663.9 608.5 664.7 608.6 665.6 608.7 666.4 608.8 667.3 608.9 668.1 609.0 668.9 609.1 669.8 609.2 670.6 609.3 671.3 609.3 672.1 609.4 672.9 609.5 673.7 609.6 674.4 609.6 675.2 609.7 676.0 609.8 676.8 609.8 677.6 609.9 678.4 609.9 679.2 610.0 680.0 610.1 680.9 610.1 681.7 610.2 682.5 610.2 683.3 610.3 684.1 610.3 684.9 610.4 685.8 610.4 686.6 610.5 687.4 610.5 688.2 610.6 689.0 610.6 689.9 610.7 690.7 610.8 691.5 610.8 692.3 610.9 693.1 610.9 694.0 611.0 694.8 611.0 695.6 611.1 696.4 611.2 697.2 611.2 698.0 611.3 698.8 611.4 699.6 611.4 700.4 611.5 701.2 611.6 702.0 611.7 702.8 611.8 703.6 611.9 704.5 611.9 705.3 612.0 706.1 612.1 707.0 612.2 707.8 612.3 708.6 612.4 709.4 612.5 710.3 612.5 711.1 612.6 711.9 612.7 712.7 612.8 713.6 612.9 714.4 613.0 715.2 613.1 716.0 613.2 716.9 613.3 717.7 613.4 718.5 613.5 719.3 613.6 720.1 613.7 720.9 613.8 721.7 613.9 722.5 614.0 723.3 614.1 724.1 614.2 724.9 614.3 725.7 614.5 726.5 614.6 727.2 614.7 728.0 614.8 728.8 614.9 729.5 615.0 730.3 615.2 731.1 615.3 731.8 615.4 732.7 615.6 733.5 615.7 734.4 615.9 735.2 616.0 736.1 616.2 736.9 616.4 737.7 616.5 738.6 616.7 739.4 616.8 740.2 617.0 741.0 617.1 741.9 617.3 742.7 617.5 743.5 617.7 744.3 617.8 745.1 618.0 745.9 618.2 746.6 618.4 747.4 618.6 748.2 618.7 749.0 618.9 749.7 619.1 750.5 619.3 751.2 619.6 751.9 619.8 752.7 620.0 753.4 620.2 754.1 620.5 754.9 620.7 755.8 621.0 756.6 621.3 757.4 621.6 758.2 621.9 759.0 622.1 759.8 622.4 760.6 622.7 761.4 623.1 762.1 623.4 762.9 623.7 763.6 624.0 764.4 624.3 765.1 624.7 765.8 625.0 766.5 625.3 767.1 625.7 767.8 626.0 768.4 626.4 769.0 626.9 769.8 627.4 770.6 627.9 771.5 628.5 772.4 629.0 773.2 629.6 774.0 630.1 774.7 630.7 775.3 631.2 775.8 631.7 776.2 632.2 776.5 632.6 776.5 633.1 776.3 633.5 776.0 633.9 775.4 634.3 774.7 634.7 773.8 635.1 772.9 635.5 772.0 635.8 771.0 636.1 770.0 636.4 769.0 636.6 768.3 636.7 767.6 636.9 766.8 637.0 766.0 637.1 765.1 637.2 764.2 637.3 763.3 637.4 762.3 637.4 761.3 637.5 760.4 637.6 759.4 637.6 758.5 637.7 757.6 637.7 756.7 637.8 755.8 637.9 755.0 638.0 754.3 638.1 753.6 638.2 753.0 638.3 752.4 638.5 752.0 639.1 751.0 639.7 750.3 640.0 750.0" stroke="#0000ff" stroke-width="4.4"/>
<path d="M40.0 629.1L40.1 629.1 40.2 629.0 40.5 629.1 40.8 629.2 41.2 629.2 41.8 629.2 42.3 629.1 43.0 629.1 43.7 629.0 44.5 628.8 45.4 629.0 46.2 628.8 47.2 628.8 48.1 628.5 49.1 628.6 50.1 628.8 51.2 628.5 52.2 628.3 53.3 628.1 54.4 628.1 55.4 628.1 56.5 628.3 57.6 628.3 58.6 628.4 59.6 628.2 60.6 628.1 61.5 627.9 62.4 627.8 63.3 627.9 64.1 627.8 64.8 627.8 65.7 627.8 66.6 627.6 67.4 627.7 68.3 627.6 69.1 627.7 70.0 627.6 70.8 627.6 71.6 627.6 72.4 627.6 73.2 627.6 74.0 627.3 74.8 627.4 75.6 627.3 76.3 627.6 77.1 627.6 77.9 627.6 78.6 627.5 79.4 627.6 80.1 627.4 80.9 627.2 81.8 627.3 82.7 627.3 83.6 627.4 84.4 627.6 85.3 627.5 86.2 627.8 87.0 627.6 87.9 627.5 88.7 627.8 89.5 628.0 90.3 628.0 91.1 628.4 91.9 628.8 92.6 629.0 93.3 629.2 94.0 629.3 94.8 629.6 95.5 630.2 96.1 630.8 96.7 631.4 97.4 632.0 98.0 632.5 98.5 632.9 99.1 633.6 99.7 634.3 100.2 635.0 100.8 635.9 101.2 636.3 101.6 637.0 102.0 637.7 102.4 638.5 102.8 639.1 103.2 640.1 103.5 640.8 103.9 641.6 104.2 642.1 104.6 643.0 104.9 643.6 105.3 644.4 105.6 645.1 106.0 645.9 106.3 646.8 106.7 647.4 107.0 648.2 107.4 648.9 107.8 649.7 108.2 650.3 108.6 651.1 109.0 651.8 109.4 652.7 109.8 653.4 110.2 654.2 110.6 654.9 111.1 655.7 111.5 656.5 111.9 657.1 112.3 657.7 112.8 658.4 113.2 659.1 113.6 659.7 114.1 660.2 114.5 661.0 115.0 661.8 115.5 662.2 115.9 662.9 116.4 663.5 116.9 664.1 117.4 665.0 118.0 665.6 118.5 666.4 119.1 666.9 119.6 667.7 120.2 668.4 120.7 669.0 121.3 669.6 121.9 670.1 122.5 670.7 123.1 671.2 123.7 671.7 124.3 672.3 124.9 672.7 125.5 673.1 126.2 673.5 126.8 674.1 127.5 674.8 128.2 675.1 129.0 675.5 129.7 675.6 130.5 676.3 131.2 676.7 132.0 677.2 132.8 677.6 133.6 677.8 134.4 678.1 135.1 678.4 135.9 678.8 136.6 679.0 137.3 679.1 138.0 679.1 138.9 679.2 139.8 678.7 140.6 678.4 141.5 678.4 142.3 678.1 143.1 677.9 143.9 677.4 144.7 676.9 145.5 676.3 146.1 675.8 146.6 675.4 147.2 674.7 147.7 674.1 148.3 673.4 148.8 672.8 149.3 672.1 149.8 671.3 150.4 670.8 150.9 670.4 151.4 669.7 151.9 668.9 152.5 668.2 153.0 667.5 153.5 666.7 154.1 666.2 154.6 665.4 155.1 664.5 155.6 663.9 156.1 663.1 156.6 662.7 157.1 662.2 157.6 661.5 158.1 661.1 158.6 660.6 159.1 659.9 159.6 659.3 160.2 658.8 160.7 658.2 161.2 657.4 161.8 656.7 162.4 655.8 162.9 655.4 163.5 654.8 164.1 654.1 164.6 653.7 165.2 653.1 165.7 652.5 166.3 651.8 166.9 651.1 167.4 650.6 168.0 650.3 168.6 649.7 169.2 649.1 169.8 648.6 170.5 648.2 171.1 647.6 171.7 647.2 172.3 646.6 172.9 645.9 173.6 645.4 174.2 645.0 174.8 644.4 175.4 643.9 176.0 643.3 176.6 642.8 177.2 642.1 177.8 641.3 178.4 640.9 179.0 640.4 179.7 639.9 180.3 639.5 181.0 638.7 181.7 638.5 182.3 638.1 183.0 637.3 183.6 636.9 184.3 636.2 184.9 635.7 185.6 635.1 186.2 634.6 186.9 634.0 187.5 633.4 188.2 632.9 188.8 632.4 189.5 631.9 190.1 631.5 190.8 631.2 191.4 630.9 192.1 630.4 192.8 629.6 193.5 629.2 194.1 628.6 194.8 627.8 195.5 627.2 196.1 626.8 196.8 626.6 197.5 626.3 198.2 625.7 198.8 625.3 199.5 624.8 200.2 624.3 200.9 623.9 201.7 623.5 202.4 623.3 203.2 623.0 204.0 622.5 204.8 622.2 205.7 622.0 206.6 622.0 207.5 621.6 208.3 621.6 209.2 621.3 210.1 621.2 210.9 620.9 211.8 620.8 212.6 620.9 213.3 621.0 214.1 620.7 214.8 620.5 215.8 620.6 216.7 621.1 217.6 621.8 218.5 622.0 219.3 622.0 220.2 622.1 221.0 622.1 221.7 622.1 222.4 621.8 223.1 621.4 223.8 621.0 224.4 620.4 225.1 619.8 225.8 619.1 226.5 618.8 227.2 618.5 228.1 618.4 228.9 618.1 229.8 618.0 230.7 617.9 231.6 618.0 232.5 617.9 233.4 618.0 234.2 617.7 234.9 617.2 235.6 616.9 236.3 616.7 237.0 616.1 237.8 615.9 238.6 615.7 239.6 615.6 240.2 615.3 240.8 615.1 241.4 615.0 242.1 614.8 242.8 614.4 243.5 614.3 244.3 614.3 245.0 614.0 245.8 614.2 246.6 613.9 247.4 613.5 248.3 613.3 249.1 613.2 250.0 613.0 250.8 613.0 251.7 612.9 252.6 612.4 253.4 612.4 254.3 612.5 255.2 612.5 256.1 612.1 256.9 611.8 257.8 611.7 258.7 611.5 259.5 611.2 260.3 611.3 261.0 611.4 261.8 611.6 262.6 611.3 263.3 610.9 264.1 610.8 264.9 610.7 265.7 611.0 266.5 610.9 267.3 610.8 268.1 610.7 268.9 610.5 269.7 610.3 270.5 610.3 271.3 610.1 272.1 609.8 272.9 609.5 273.7 609.6 274.6 609.6 275.4 609.3 276.2 609.3 277.0 609.5 277.8 609.4 278.6 609.2 279.5 609.1 280.3 609.1 281.1 609.1 281.9 609.1 282.7 609.2 283.5 609.2 284.3 609.2 285.1 608.9 285.9 608.7 286.8 608.5 287.6 608.5 288.5 608.4 289.4 608.5 290.3 608.4 291.2 608.5 292.1 608.3 293.0 608.2 293.9 608.2 294.8 608.2 295.7 608.0 296.6 608.4 297.5 608.2 298.4 608.2 299.3 608.2 300.1 608.2 300.9 607.8 301.8 607.8 302.6 607.9 303.4 607.8 304.1 607.9 304.8 608.0 305.6 608.1 306.2 608.1 306.9 607.9 307.5 608.0 308.1 608.1 308.6 607.9 309.1 607.8 310.3 607.8 311.2 607.7 312.1 607.9 312.8 607.8 313.6 608.0 314.3 608.3 314.8 609.1 315.4 609.9 315.9 611.0 316.4 611.7 317.0 612.0 317.6 611.8 318.2 611.2 318.8 610.2 319.5 609.4 320.3 608.9 321.0 608.6 321.7 608.4 322.5 608.2 323.4 607.9 324.3 607.9 325.2 607.7 326.2 607.8 327.1 607.7 328.1 607.7 329.0 607.9 329.8 608.1 330.6 608.2 331.4 608.0 332.1 607.6 332.9 607.8 333.7 608.2 334.6 608.5 335.4 608.2 336.2 608.1 337.1 608.0 338.1 608.6 339.0 608.5 340.0 608.4 340.6 608.4 341.3 608.4 342.0 608.2 342.7 608.0 343.4 608.2 344.1 608.4 344.8 608.3 345.6 608.4 346.3 608.6 347.1 608.7 347.9 608.8 348.6 608.7 349.4 608.7 350.2 608.9 351.1 608.7 351.9 608.6 352.7 608.4 353.5 608.3 354.4 608.3 355.2 608.7 356.1 608.8 356.9 608.8 357.8 609.0 358.7 609.0 359.5 608.8 360.4 608.6 361.3 608.8 362.2 608.9 363.0 608.9 363.9 608.9 364.8 608.3 365.5 608.5 366.3 608.9 367.0 608.9 367.8 608.9 368.6 609.1 369.4 608.9 370.2 609.0 371.0 609.0 371.9 608.7 372.7 608.6 373.5 608.8 374.4 608.6 375.2 608.9 376.1 608.9 377.0 609.0 377.8 609.0 378.7 608.9 379.6 608.8 380.5 608.1 381.3 608.5 382.2 608.5 383.1 608.6 384.0 609.0 384.8 608.9 385.7 608.9 386.6 608.5 387.4 608.4 388.3 608.8 389.2 608.7 390.0 609.0 390.8 609.0 391.7 608.7 392.5 608.4 393.3 608.2 394.1 608.2 394.9 608.6 395.7 608.7 396.4 608.7 397.2 608.8 397.9 608.3 398.6 608.3 399.3 608.3 400.0 608.3 400.7 608.7 401.4 608.6 402.0 608.8 403.0 608.4 404.0 608.4 405.0 607.9 405.9 608.3 406.9 608.8 407.8 608.5 408.7 608.2 409.6 608.4 410.4 608.6 411.3 608.8 412.1 608.6 412.8 608.3 413.6 608.3 414.3 608.1 415.0 608.3 415.7 608.8 416.3 608.4 416.9 608.2 417.8 608.0 418.7 607.8 419.5 607.3 420.2 607.2 420.8 607.0 421.4 606.4 422.0 605.9 422.6 604.9 423.0 603.4 423.5 602.4 423.9 601.8 424.2 602.0 424.4 602.5 424.6 603.1 424.8 603.7 425.0 604.3 425.2 605.6 425.4 606.4 425.6 607.6 425.8 608.8 426.0 609.9 426.2 610.9 426.4 611.7 426.6 612.6 426.9 613.4 427.1 614.3 427.3 614.7 427.6 615.6 427.8 616.6 428.1 617.0 428.4 618.0 428.6 618.7 428.9 619.8 429.2 620.2 429.5 621.0 429.8 621.9 430.2 622.5 430.6 623.7 431.1 624.5 431.6 625.5 432.0 626.7 432.5 627.2 433.0 627.7 433.4 628.2 433.8 628.6 434.2 628.0 434.5 627.8 434.9 626.9 435.2 626.0 435.6 625.1 435.9 624.3 436.2 623.2 436.5 622.2 436.8 621.1 437.0 620.3 437.2 619.7 437.4 618.9 437.5 617.5 437.6 616.5 437.8 615.5 437.9 614.5 438.0 613.2 438.2 612.3 438.3 611.7 438.5 610.8 438.6 610.3 438.8 609.5 439.1 609.3 439.3 609.1 439.8 609.6 440.3 610.1 440.9 611.2 441.5 611.8 442.2 612.5 443.0 612.9 443.8 613.3 444.7 613.5 445.5 613.9 446.2 614.4 447.0 615.1 447.7 615.9 448.5 616.6 449.2 616.8 449.7 616.5 450.2 615.9 450.6 614.9 451.1 613.9 451.5 613.0 452.0 612.0 452.5 610.9 453.0 610.4 453.6 610.1 454.3 610.1 455.0 610.9 455.8 611.2 456.6 611.6 457.4 611.8 458.2 612.6 459.1 613.2 459.9 613.3 460.7 613.4 461.5 613.0 462.4 613.2 463.2 613.9 464.1 614.5 464.9 614.5 465.8 614.4 466.6 614.5 467.3 615.2 468.1 615.6 468.8 616.0 469.5 616.4 470.2 616.8 471.0 617.2 471.7 617.4 472.4 617.5 473.2 617.8 474.0 617.8 474.8 618.0 475.6 618.1 476.4 618.1 477.2 618.7 478.0 618.9 478.9 618.9 479.7 619.2 480.6 619.5 481.4 619.7 482.3 619.9 483.1 620.1 483.9 620.3 484.7 620.5 485.5 620.7 486.3 620.8 487.2 621.0 488.0 621.1 488.8 621.3 489.5 621.5 490.3 621.7 491.0 622.0 491.7 622.4 492.4 622.8 493.0 623.3 493.5 623.8 494.1 624.4 494.6 625.0 495.1 625.7 495.6 626.4 496.0 627.1 496.5 627.8 496.9 628.6 497.3 629.3 497.7 630.1 498.2 630.8 498.6 631.5 499.0 632.2 499.4 632.9 499.8 633.6 500.2 634.2 500.6 634.9 501.0 635.6 501.4 636.3 501.8 637.0 502.1 637.8 502.5 638.5 502.9 639.3 503.2 640.1 503.6 641.0 503.9 641.7 504.1 642.3 504.4 643.0 504.7 643.7 504.9 644.5 505.2 645.2 505.5 646.0 505.7 646.8 506.0 647.6 506.2 648.4 506.5 649.2 506.8 650.0 507.0 650.8 507.3 651.6 507.5 652.5 507.8 653.3 508.0 654.1 508.3 655.0 508.5 655.8 508.8 656.6 509.0 657.5 509.3 658.3 509.5 659.1 509.8 659.9 510.0 660.7 510.3 661.5 510.5 662.3 510.8 663.1 511.0 663.9 511.3 664.8 511.5 665.6 511.8 666.5 512.0 667.3 512.3 668.1 512.5 669.0 512.7 669.8 513.0 670.6 513.2 671.5 513.5 672.3 513.7 673.1 514.0 673.9 514.2 674.7 514.5 675.4 514.7 676.2 515.0 676.9 515.2 677.7 515.5 678.4 515.7 679.0 516.0 679.7 516.4 680.6 516.7 681.5 517.1 682.4 517.4 683.3 517.8 684.1 518.1 684.9 518.5 685.7 518.9 686.5 519.2 687.2 519.6 687.9 520.1 688.5 520.5 689.1 521.0 689.6 521.6 690.2 522.3 690.8 523.0 691.3 523.8 691.8 524.5 692.2 525.3 692.5 526.0 692.6 526.7 692.6 527.3 692.4 528.0 692.1 528.6 691.6 529.2 691.0 529.8 690.3 530.4 689.6 531.0 688.8 531.5 687.9 532.1 687.1 532.5 686.5 532.8 685.9 533.1 685.3 533.5 684.7 533.8 684.0 534.1 683.2 534.4 682.5 534.8 681.7 535.1 681.0 535.4 680.2 535.7 679.4 536.0 678.6 536.3 677.8 536.6 677.0 536.9 676.2 537.2 675.4 537.4 674.6 537.7 673.8 538.0 673.0 538.3 672.3 538.6 671.5 538.9 670.7 539.2 669.9 539.4 669.1 539.7 668.3 540.0 667.5 540.2 666.7 540.5 665.9 540.8 665.1 541.0 664.3 541.3 663.6 541.6 662.8 541.8 662.0 542.1 661.3 542.4 660.6 542.7 659.9 543.0 659.2 543.3 658.6 543.7 657.8 544.2 657.1 544.6 656.4 545.1 655.8 545.5 655.1 546.0 654.5 546.5 653.9 547.0 653.3 547.4 652.6 547.9 651.9 548.3 651.2 548.7 650.5 549.0 649.8 549.3 649.1 549.7 648.3 550.0 647.5 550.3 646.7 550.6 645.9 550.9 645.1 551.3 644.3 551.6 643.6 552.0 642.9 552.4 642.2 552.8 641.6 553.2 641.0 553.8 640.3 554.4 639.6 555.1 639.0 555.8 638.4 556.5 637.9 557.2 637.4 557.9 637.0 558.7 636.7 559.4 636.5 560.3 636.4 561.2 636.4 562.1 636.5 563.0 636.7 563.9 637.0 564.8 637.3 565.6 637.7 566.3 638.1 566.9 638.6 567.5 639.1 568.1 639.7 568.7 640.3 569.3 641.0 569.9 641.7 570.6 642.5 571.0 643.0 571.4 643.5 571.8 644.1 572.3 644.6 572.7 645.3 573.2 645.9 573.6 646.5 574.1 647.2 574.6 647.9 575.0 648.6 575.5 649.3 576.0 650.0 576.4 650.7 576.9 651.5 577.4 652.2 577.8 653.0 578.3 653.7 578.8 654.5 579.2 655.2 579.6 655.9 580.1 656.7 580.5 657.4 580.9 658.1 581.3 658.8 581.7 659.5 582.1 660.2 582.4 660.9 582.8 661.6 583.2 662.3 583.6 663.0 583.9 663.7 584.3 664.5 584.7 665.2 585.0 665.9 585.4 666.6 585.7 667.4 586.1 668.1 586.4 668.8 586.8 669.6 587.1 670.3 587.5 671.0 587.8 671.8 588.2 672.5 588.5 673.2 588.9 674.0 589.2 674.7 589.5 675.5 589.9 676.2 590.2 677.0 590.6 677.7 590.9 678.5 591.3 679.3 591.6 680.0 591.9 680.8 592.3 681.5 592.6 682.3 592.9 683.1 593.2 683.8 593.6 684.6 593.9 685.4 594.2 686.1 594.5 686.9 594.8 687.6 595.1 688.4 595.5 689.1 595.8 689.9 596.1 690.6 596.4 691.4 596.7 692.1 597.0 692.9 597.4 693.6 597.7 694.4 598.0 695.1 598.4 695.9 598.7 696.6 599.0 697.4 599.3 698.1 599.7 698.9 600.0 699.6 600.3 700.3 600.6 701.1 600.9 701.8 601.2 702.5 601.5 703.3 601.8 704.0 602.1 704.8 602.4 705.5 602.6 706.2 602.9 707.0 603.2 707.8 603.4 708.5 603.6 709.3 603.9 710.1 604.1 710.8 604.3 711.6 604.5 712.3 604.7 713.1 604.9 713.8 605.1 714.6 605.3 715.4 605.4 716.2 605.6 716.9 605.8 717.7 606.0 718.5 606.1 719.4 606.3 720.2 606.4 721.0 606.6 721.9 606.7 722.6 606.8 723.3 607.0 724.1 607.1 724.8 607.2 725.6 607.3 726.4 607.4 727.1 607.5 727.9 607.6 728.7 607.7 729.5 607.7 730.3 607.8 731.1 607.9 731.9 608.0 732.8 608.1 733.6 608.1 734.4 608.2 735.2 608.3 736.0 608.4 736.9 608.4 737.7 608.5 738.5 608.6 739.3 608.7 740.2 608.8 741.0 608.8 741.8 608.9 742.6 609.0 743.4 609.1 744.2 609.2 745.0 609.3 745.8 609.4 746.6 609.4 747.4 609.5 748.2 609.6 749.1 609.7 749.9 609.8 750.7 609.8 751.5 609.9 752.3 610.0 753.1 610.1 754.0 610.2 754.8 610.2 755.6 610.3 756.4 610.4 757.2 610.5 758.0 610.6 758.8 610.7 759.6 610.8 760.4 610.9 761.2 610.9 762.0 611.0 762.8 611.1 763.6 611.3 764.3 611.4 765.1 611.5 765.9 611.6 766.6 611.7 767.4 611.9 768.3 612.0 769.1 612.2 769.9 612.3 770.7 612.5 771.5 612.6 772.3 612.8 773.1 612.9 773.9 613.1 774.7 613.3 775.5 613.4 776.3 613.6 777.0 613.8 777.8 614.0 778.6 614.1 779.4 614.3 780.1 614.5 780.9 614.7 781.6 614.9 782.4 615.1 783.1 615.3 783.9 615.5 784.7 615.7 785.6 616.0 786.4 616.2 787.2 616.4 788.1 616.6 788.9 616.9 789.7 617.1 790.6 617.3 791.4 617.6 792.2 617.8 793.0 618.1 793.8 618.4 794.6 618.6 795.3 618.9 796.1 619.2 796.8 619.5 797.5 619.9 798.2 620.2 798.8 620.6 799.6 621.1 800.3 621.6 801.0 622.1 801.7 622.6 802.4 623.1 803.0 623.6 803.6 624.2 804.2 624.7 804.8 625.3 805.3 625.8 805.8 626.4 806.3 627.1 806.9 627.8 807.5 628.5 808.1 629.2 808.6 630.0 809.1 630.7 809.6 631.4 809.9 632.0 810.0 632.6 810.0 633.3 809.7 633.9 809.2 634.5 808.5 635.0 807.7 635.5 806.8 636.0 805.9 636.4 805.0 636.7 804.2 637.0 803.4 637.2 802.4 637.4 801.5 637.5 800.5 637.7 799.5 637.9 798.6 638.0 797.8 638.3 797.1 638.5 796.5 639.4 795.5 640.0 795.0" stroke="#008080" stroke-width="4.4"/>
</g>
<rect x="43.5" y="488.5" width="594.9" height="373.4" fill="none" stroke="#000" stroke-width="1.35"/>
<path d="M43.5 556.0h8M43.5 522.1h4.5M43.5 623.9h8M43.5 590.0h4.5M43.5 691.7h8M43.5 657.8h4.5M43.5 759.5h8M43.5 725.6h4.5M43.5 827.4h8M43.5 793.5h4.5M43.5 861.9v-8M84.8 861.9v-4.5M126.2 861.9v-8M167.4 861.9v-4.5M208.8 861.9v-8M250.1 861.9v-4.5M291.5 861.9v-8M332.8 861.9v-4.5M374.1 861.9v-8M415.4 861.9v-4.5M456.8 861.9v-8M498.1 861.9v-4.5M539.4 861.9v-8M580.7 861.9v-4.5M622.1 861.9v-8" stroke="#000" stroke-width="1.3" fill="none"/>
<text transform="translate(19.68,884.80) scale(1.0442,1)" font-size="20.3" font-family="'Liberation Sans', sans-serif" font-weight="bold">4000</text>
<text transform="translate(102.62,884.80) scale(1.0491,1)" font-size="20.3" font-family="'Liberation Sans', sans-serif" font-weight="bold">3500</text>
<text transform="translate(185.27,884.80) scale(1.0491,1)" font-size="20.3" font-family="'Liberation Sans', sans-serif" font-weight="bold">3000</text>
<text transform="translate(267.70,884.80) scale(1.0540,1)" font-size="20.3" font-family="'Liberation Sans', sans-serif" font-weight="bold">2500</text>
<text transform="translate(350.35,884.80) scale(1.0540,1)" font-size="20.3" font-family="'Liberation Sans', sans-serif" font-weight="bold">2000</text>
<text transform="translate(432.34,884.80) scale(1.0689,1)" font-size="20.3" font-family="'Liberation Sans', sans-serif" font-weight="bold">1500</text>
<text transform="translate(514.99,884.80) scale(1.0689,1)" font-size="20.3" font-family="'Liberation Sans', sans-serif" font-weight="bold">1000</text>
<text transform="translate(605.07,884.80) scale(1.0408,1)" font-size="20.3" font-family="'Liberation Sans', sans-serif" font-weight="bold">500</text>
<rect x="349.4" y="744.4" width="125.3" height="98.5" fill="#fff" stroke="#444" stroke-width="1"/>
<text transform="translate(352.73,762.80) scale(1.0436,1)" font-size="20" font-family="'Liberation Serif', serif" font-weight="bold" letter-spacing="0.60">1 ZnO Chem</text>
<text transform="translate(353.57,787.90) scale(1.0327,1)" font-size="20" font-family="'Liberation Serif', serif" font-weight="bold" letter-spacing="0.60">2 ZnO (B.S)</text>
<text transform="translate(353.57,813.00) scale(1.0352,1)" font-size="20" font-family="'Liberation Serif', serif" font-weight="bold" letter-spacing="0.60">3 ZnO Seder</text>
<text transform="translate(354.08,838.10) scale(1.0507,1)" font-size="20" font-family="'Liberation Serif', serif" font-weight="bold" letter-spacing="0.60">4 ZnO (P.M)</text>
<text transform="translate(58.84,517.20) scale(1.0888,1)" font-size="27.8" font-family="'Liberation Serif', serif" font-weight="bold" letter-spacing="0.83">(B)</text>
<text transform="translate(29.40,795.81) rotate(-90) scale(0.9682,1.070)" font-size="28" font-family="'Liberation Serif', serif" font-weight="bold" letter-spacing="0.84">Transmittance (a.u)</text>
<text transform="translate(205.76,924.00) scale(1.0239,1)" font-size="28.6" font-family="'Liberation Serif', serif" font-weight="bold" letter-spacing="0.86">Wavenumber</text>
<text transform="translate(392.23,924.00) scale(1.3023,1)" font-size="26.8" font-family="'Liberation Serif', serif" font-weight="bold" letter-spacing="0.80">(</text>
<text transform="translate(403.28,924.00) scale(1.0169,1)" font-size="28.6" font-family="'Liberation Serif', serif" font-weight="bold" letter-spacing="0.86">cm</text>
<text transform="translate(441.85,907.50) scale(1.3347,1)" font-size="26.8" font-family="'Liberation Serif', serif" font-weight="bold" letter-spacing="0.80">-</text>
<text transform="translate(452.40,907.70) scale(1.1811,1)" font-size="25.4" font-family="'Liberation Serif', serif" font-weight="bold" letter-spacing="0.76">1</text>
<text transform="translate(468.51,924.00) scale(1.1051,1)" font-size="26.8" font-family="'Liberation Serif', serif" font-weight="bold" letter-spacing="0.80">)</text>
</svg>
</body></html>
